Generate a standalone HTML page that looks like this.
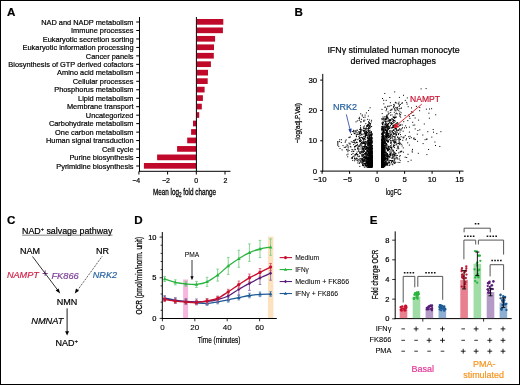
<!DOCTYPE html>
<html><head><meta charset="utf-8"><style>
html,body{margin:0;padding:0;background:#fff;}
svg{display:block;font-family:"Liberation Sans", sans-serif;will-change:transform;}
</style></head><body>
<svg width="520" height="385" viewBox="0 0 520 385">
<rect x="0" y="0" width="520" height="385" fill="#fff"/>
<text x="7" y="15.6" font-size="11.6" font-weight="bold" stroke="#000" stroke-width="0.2">A</text>
<rect x="196.90" y="19.00" width="26.40" height="5.70" fill="#c0082a"/>
<line x1="136.2" y1="22.0" x2="139.5" y2="22.0" stroke="#000" stroke-width="1"/>
<text x="133.5" y="24.650000000000002" font-size="7.4" text-anchor="end" stroke="#000" stroke-width="0.2">NAD and NADP metabolism</text>
<rect x="196.90" y="27.47" width="26.00" height="5.70" fill="#c0082a"/>
<line x1="136.2" y1="30.47" x2="139.5" y2="30.47" stroke="#000" stroke-width="1"/>
<text x="133.5" y="33.12" font-size="7.4" text-anchor="end" stroke="#000" stroke-width="0.2">Immune processes</text>
<rect x="196.90" y="35.94" width="18.20" height="5.70" fill="#c0082a"/>
<line x1="136.2" y1="38.94" x2="139.5" y2="38.94" stroke="#000" stroke-width="1"/>
<text x="133.5" y="41.589999999999996" font-size="7.4" text-anchor="end" stroke="#000" stroke-width="0.2">Eukaryotic secretion sorting</text>
<rect x="196.90" y="44.41" width="17.10" height="5.70" fill="#c0082a"/>
<line x1="136.2" y1="47.410000000000004" x2="139.5" y2="47.410000000000004" stroke="#000" stroke-width="1"/>
<text x="133.5" y="50.06" font-size="7.4" text-anchor="end" stroke="#000" stroke-width="0.2">Eukaryotic information processing</text>
<rect x="196.90" y="52.88" width="16.90" height="5.70" fill="#c0082a"/>
<line x1="136.2" y1="55.88" x2="139.5" y2="55.88" stroke="#000" stroke-width="1"/>
<text x="133.5" y="58.53" font-size="7.4" text-anchor="end" stroke="#000" stroke-width="0.2">Cancer panels</text>
<rect x="196.90" y="61.35" width="14.00" height="5.70" fill="#c0082a"/>
<line x1="136.2" y1="64.35000000000001" x2="139.5" y2="64.35000000000001" stroke="#000" stroke-width="1"/>
<text x="133.5" y="67.0" font-size="7.4" text-anchor="end" stroke="#000" stroke-width="0.2">Biosynthesis of GTP derived cofactors</text>
<rect x="196.90" y="69.82" width="11.10" height="5.70" fill="#c0082a"/>
<line x1="136.2" y1="72.82000000000001" x2="139.5" y2="72.82000000000001" stroke="#000" stroke-width="1"/>
<text x="133.5" y="75.47" font-size="7.4" text-anchor="end" stroke="#000" stroke-width="0.2">Amino acid metabolism</text>
<rect x="196.90" y="78.29" width="10.80" height="5.70" fill="#c0082a"/>
<line x1="136.2" y1="81.29" x2="139.5" y2="81.29" stroke="#000" stroke-width="1"/>
<text x="133.5" y="83.94" font-size="7.4" text-anchor="end" stroke="#000" stroke-width="0.2">Cellular processes</text>
<rect x="196.90" y="86.76" width="7.70" height="5.70" fill="#c0082a"/>
<line x1="136.2" y1="89.76" x2="139.5" y2="89.76" stroke="#000" stroke-width="1"/>
<text x="133.5" y="92.41" font-size="7.4" text-anchor="end" stroke="#000" stroke-width="0.2">Phosphorus metabolism</text>
<rect x="196.90" y="95.23" width="6.00" height="5.70" fill="#c0082a"/>
<line x1="136.2" y1="98.23" x2="139.5" y2="98.23" stroke="#000" stroke-width="1"/>
<text x="133.5" y="100.88" font-size="7.4" text-anchor="end" stroke="#000" stroke-width="0.2">Lipid metabolism</text>
<rect x="196.90" y="103.70" width="4.90" height="5.70" fill="#c0082a"/>
<line x1="136.2" y1="106.7" x2="139.5" y2="106.7" stroke="#000" stroke-width="1"/>
<text x="133.5" y="109.35" font-size="7.4" text-anchor="end" stroke="#000" stroke-width="0.2">Membrane transport</text>
<rect x="196.90" y="112.17" width="2.30" height="5.70" fill="#c0082a"/>
<line x1="136.2" y1="115.17" x2="139.5" y2="115.17" stroke="#000" stroke-width="1"/>
<text x="133.5" y="117.82" font-size="7.4" text-anchor="end" stroke="#000" stroke-width="0.2">Uncategorized</text>
<rect x="193.00" y="120.64" width="3.40" height="5.70" fill="#c0082a"/>
<line x1="136.2" y1="123.64000000000001" x2="139.5" y2="123.64000000000001" stroke="#000" stroke-width="1"/>
<text x="133.5" y="126.29" font-size="7.4" text-anchor="end" stroke="#000" stroke-width="0.2">Carbohydrate metabolism</text>
<rect x="191.10" y="129.11" width="5.30" height="5.70" fill="#c0082a"/>
<line x1="136.2" y1="132.11" x2="139.5" y2="132.11" stroke="#000" stroke-width="1"/>
<text x="133.5" y="134.76000000000002" font-size="7.4" text-anchor="end" stroke="#000" stroke-width="0.2">One carbon metabolism</text>
<rect x="187.20" y="137.58" width="9.20" height="5.70" fill="#c0082a"/>
<line x1="136.2" y1="140.58" x2="139.5" y2="140.58" stroke="#000" stroke-width="1"/>
<text x="133.5" y="143.23000000000002" font-size="7.4" text-anchor="end" stroke="#000" stroke-width="0.2">Human signal transduction</text>
<rect x="177.10" y="146.05" width="19.30" height="5.70" fill="#c0082a"/>
<line x1="136.2" y1="149.05" x2="139.5" y2="149.05" stroke="#000" stroke-width="1"/>
<text x="133.5" y="151.70000000000002" font-size="7.4" text-anchor="end" stroke="#000" stroke-width="0.2">Cell cycle</text>
<rect x="157.10" y="154.52" width="39.30" height="5.70" fill="#c0082a"/>
<line x1="136.2" y1="157.52" x2="139.5" y2="157.52" stroke="#000" stroke-width="1"/>
<text x="133.5" y="160.17000000000002" font-size="7.4" text-anchor="end" stroke="#000" stroke-width="0.2">Purine biosynthesis</text>
<rect x="143.90" y="162.99" width="52.50" height="5.70" fill="#c0082a"/>
<line x1="136.2" y1="165.99" x2="139.5" y2="165.99" stroke="#000" stroke-width="1"/>
<text x="133.5" y="168.64000000000001" font-size="7.4" text-anchor="end" stroke="#000" stroke-width="0.2">Pyrimidine biosynthesis</text>
<line x1="139.5" y1="17" x2="139.5" y2="171.8" stroke="#000" stroke-width="1"/>
<line x1="139" y1="171.3" x2="230.5" y2="171.3" stroke="#000" stroke-width="1"/>
<line x1="196.4" y1="17" x2="196.4" y2="171.3" stroke="#000" stroke-width="1"/>
<line x1="138.9" y1="171.3" x2="138.9" y2="174.5" stroke="#000" stroke-width="1"/>
<text x="136.2" y="182.8" font-size="7" text-anchor="middle" stroke="#000" stroke-width="0.2">−4</text>
<line x1="167.60000000000002" y1="171.3" x2="167.60000000000002" y2="174.5" stroke="#000" stroke-width="1"/>
<text x="165.9" y="182.8" font-size="7" text-anchor="middle" stroke="#000" stroke-width="0.2">−2</text>
<line x1="196.3" y1="171.3" x2="196.3" y2="174.5" stroke="#000" stroke-width="1"/>
<text x="196.3" y="182.8" font-size="7" text-anchor="middle" stroke="#000" stroke-width="0.2">0</text>
<line x1="225.0" y1="171.3" x2="225.0" y2="174.5" stroke="#000" stroke-width="1"/>
<text x="225.4" y="182.8" font-size="7" text-anchor="middle" stroke="#000" stroke-width="0.2">2</text>
<text x="153" y="194.5" font-size="9.6" textLength="63" lengthAdjust="spacingAndGlyphs" stroke="#000" stroke-width="0.3">Mean log<tspan font-size="7" dy="2.6">2</tspan><tspan dy="-2.6"> fold change</tspan></text>
<text x="294.6" y="15.8" font-size="11.6" font-weight="bold" stroke="#000" stroke-width="0.2">B</text>
<text x="393.5" y="52.7" font-size="8.9" text-anchor="middle" stroke="#000" stroke-width="0.2">IFNγ stimulated human monocyte</text>
<text x="393.3" y="63.7" font-size="8.9" text-anchor="middle" stroke="#000" stroke-width="0.2">derived macrophages</text>
<line x1="322.75" y1="73.9" x2="322.75" y2="171.6" stroke="#000" stroke-width="1"/>
<line x1="322.25" y1="171.1" x2="463.5" y2="171.1" stroke="#000" stroke-width="1"/>
<line x1="320.2" y1="171.1" x2="322.75" y2="171.1" stroke="#000" stroke-width="1"/>
<text x="317.1" y="173.79999999999998" font-size="7.8" text-anchor="end" stroke="#000" stroke-width="0.2">0</text>
<line x1="320.2" y1="140.76999999999998" x2="322.75" y2="140.76999999999998" stroke="#000" stroke-width="1"/>
<text x="317.1" y="143.46999999999997" font-size="7.8" text-anchor="end" stroke="#000" stroke-width="0.2">10</text>
<line x1="320.2" y1="110.44" x2="322.75" y2="110.44" stroke="#000" stroke-width="1"/>
<text x="317.1" y="113.14" font-size="7.8" text-anchor="end" stroke="#000" stroke-width="0.2">20</text>
<line x1="320.2" y1="80.11" x2="322.75" y2="80.11" stroke="#000" stroke-width="1"/>
<text x="317.1" y="82.81" font-size="7.8" text-anchor="end" stroke="#000" stroke-width="0.2">30</text>
<line x1="322.1" y1="171.1" x2="322.1" y2="173.8" stroke="#000" stroke-width="1"/>
<text x="320.1" y="182.3" font-size="7.8" text-anchor="middle" stroke="#000" stroke-width="0.2">−10</text>
<line x1="349.6" y1="171.1" x2="349.6" y2="173.8" stroke="#000" stroke-width="1"/>
<text x="347.6" y="182.3" font-size="7.8" text-anchor="middle" stroke="#000" stroke-width="0.2">−5</text>
<line x1="377.1" y1="171.1" x2="377.1" y2="173.8" stroke="#000" stroke-width="1"/>
<text x="377.1" y="182.3" font-size="7.8" text-anchor="middle" stroke="#000" stroke-width="0.2">0</text>
<line x1="404.6" y1="171.1" x2="404.6" y2="173.8" stroke="#000" stroke-width="1"/>
<text x="404.6" y="182.3" font-size="7.8" text-anchor="middle" stroke="#000" stroke-width="0.2">5</text>
<line x1="432.1" y1="171.1" x2="432.1" y2="173.8" stroke="#000" stroke-width="1"/>
<text x="432.1" y="182.3" font-size="7.8" text-anchor="middle" stroke="#000" stroke-width="0.2">10</text>
<line x1="459.6" y1="171.1" x2="459.6" y2="173.8" stroke="#000" stroke-width="1"/>
<text x="459.6" y="182.3" font-size="7.8" text-anchor="middle" stroke="#000" stroke-width="0.2">15</text>
<text transform="translate(300.3,123.1) rotate(-90)" font-size="8" text-anchor="middle" textLength="40" lengthAdjust="spacingAndGlyphs" stroke="#000" stroke-width="0.25">−log(adj.P.Val)</text>
<text x="393.7" y="194.5" font-size="8.5" text-anchor="middle" textLength="16" lengthAdjust="spacingAndGlyphs" stroke="#000" stroke-width="0.2">logFC</text>
<path d="M381.3 162.4h1M381.6 140.6h1M382.1 160.2h1M382.0 149.6h1M382.2 139.1h1M382.2 160.0h1M383.4 138.3h1M382.9 167.0h1M382.1 144.4h1M381.9 162.5h1M381.7 164.0h1M382.0 124.7h1M381.9 163.9h1M382.3 144.0h1M383.2 163.5h1M381.8 160.2h1M381.9 148.6h1M382.5 167.2h1M382.7 138.0h1M381.8 142.6h1M382.7 160.7h1M381.6 164.5h1M383.5 146.4h1M383.0 158.1h1M381.3 158.0h1M381.6 136.9h1M381.8 132.1h1M381.9 139.9h1M382.9 166.0h1M382.0 163.6h1M381.7 160.8h1M382.3 143.8h1M382.9 161.3h1M381.9 165.7h1M381.4 158.6h1M382.5 137.3h1M381.6 156.7h1M382.5 153.9h1M383.5 156.8h1M382.2 157.2h1M381.9 164.3h1M381.5 141.2h1M382.0 160.6h1M381.4 155.5h1M381.7 145.7h1M382.3 137.4h1M381.9 154.9h1M382.2 153.9h1M381.3 163.4h1M381.8 142.4h1M382.4 156.6h1M381.4 154.9h1M382.0 156.4h1M382.5 157.0h1M381.8 146.5h1M381.4 144.3h1M382.0 137.1h1M382.2 159.8h1M381.6 161.4h1M381.7 167.3h1M382.9 153.7h1M382.4 153.2h1M382.3 159.5h1M382.1 164.6h1M383.5 147.5h1M381.7 157.7h1M381.8 146.9h1M381.7 162.8h1M383.4 163.8h1M381.5 166.4h1M382.6 155.4h1M382.4 162.2h1M381.6 162.9h1M382.0 166.9h1M381.8 161.2h1M381.4 143.9h1M382.7 162.5h1M383.3 160.3h1M383.1 150.8h1M382.1 159.6h1M382.2 144.8h1M384.2 154.4h1M381.5 154.1h1M381.5 159.0h1M381.9 150.2h1M381.4 164.5h1M384.3 162.7h1M382.4 155.6h1M381.5 157.4h1M382.8 145.4h1M381.3 166.8h1M382.9 142.5h1M381.8 151.4h1M382.1 159.9h1M383.2 161.3h1M381.9 143.9h1M382.0 155.5h1M383.0 162.5h1M381.7 153.8h1M381.7 164.0h1M381.9 143.3h1M381.5 151.7h1M382.9 153.4h1M381.4 148.5h1M381.4 158.2h1M381.5 145.8h1M381.4 157.9h1M382.9 156.1h1M382.9 152.2h1M381.6 148.6h1M383.2 135.6h1M382.8 135.9h1M381.7 164.3h1M381.6 167.1h1M381.3 163.6h1M381.4 129.4h1M383.1 153.4h1M383.0 162.1h1M381.3 163.3h1M382.4 154.5h1M383.6 149.1h1M382.6 162.8h1M381.9 144.8h1M381.7 159.9h1M381.6 144.8h1M382.2 166.7h1M382.1 141.7h1M381.6 160.0h1M382.1 132.9h1M382.1 123.9h1M381.9 157.1h1M383.0 154.0h1M382.5 162.2h1M382.3 141.1h1M381.7 153.5h1M381.9 134.3h1M382.4 153.1h1M381.5 149.5h1M382.7 147.6h1M381.9 166.7h1M383.0 144.2h1M382.8 164.9h1M382.4 154.1h1M382.7 166.8h1M382.1 154.5h1M383.5 164.7h1M382.4 151.5h1M381.8 129.8h1M383.8 162.7h1M381.6 167.0h1M381.9 165.3h1M383.4 148.7h1M381.5 157.0h1M382.9 160.3h1M383.0 137.3h1M382.5 142.1h1M382.4 165.3h1M382.8 155.7h1M381.8 145.1h1M381.8 162.0h1M381.7 163.7h1M382.9 142.7h1M381.4 161.7h1M381.5 130.8h1M381.5 161.4h1M382.5 148.5h1M382.2 161.9h1M382.2 141.2h1M381.5 146.8h1M382.0 162.2h1M382.5 162.1h1M382.3 163.5h1M383.0 166.3h1M381.3 153.0h1M381.4 162.9h1M383.5 159.3h1M382.3 166.7h1M382.1 144.5h1M382.1 159.0h1M382.9 149.9h1M381.8 165.2h1M382.6 141.6h1M381.5 164.9h1M382.4 158.2h1M381.5 133.4h1M382.3 160.1h1M382.1 165.7h1M381.8 166.3h1M381.6 157.0h1M383.0 155.5h1M381.5 145.4h1M381.5 166.0h1M382.5 161.8h1M382.0 157.7h1M382.6 130.0h1M382.0 160.6h1M382.7 163.6h1M382.9 155.8h1M382.2 165.7h1M381.7 165.6h1M382.3 149.2h1M381.6 155.5h1M381.7 154.4h1M382.3 163.6h1M382.3 144.9h1M383.6 166.4h1M381.8 140.1h1M381.5 148.0h1M382.3 162.7h1M384.1 156.2h1M381.3 158.2h1M381.6 140.2h1M382.5 149.4h1M383.2 162.5h1M382.5 138.6h1M382.3 166.0h1M382.4 149.1h1M381.6 160.9h1M381.6 167.0h1M381.8 145.1h1M382.6 162.6h1M381.3 147.3h1M382.8 131.6h1M381.6 166.5h1M384.0 148.5h1M384.0 147.8h1M382.8 165.0h1M381.7 158.5h1M382.3 159.0h1M381.3 143.1h1M381.4 146.8h1M382.2 157.2h1M382.2 155.8h1M381.4 123.1h1M381.4 157.9h1M382.2 153.2h1M381.7 136.8h1M381.7 165.9h1M381.5 155.8h1M382.8 162.8h1M381.5 130.1h1M382.3 123.8h1M381.4 156.5h1M381.9 136.2h1M381.8 141.2h1M382.4 149.7h1M383.5 149.2h1M381.5 149.8h1M381.4 159.9h1M381.4 153.5h1M381.9 159.1h1M383.3 166.2h1M381.3 153.7h1M384.3 156.2h1M382.1 164.1h1M382.8 166.6h1M382.4 148.4h1M383.0 149.4h1M382.6 143.9h1M382.9 166.3h1M381.3 154.5h1M381.5 166.1h1M383.6 163.2h1M381.5 164.2h1M381.8 163.7h1M381.7 159.2h1M382.1 157.7h1M382.4 165.9h1M381.6 134.3h1M382.1 166.3h1M381.5 146.3h1M382.8 162.2h1M381.7 160.6h1M381.9 157.9h1M381.7 152.0h1M382.4 156.5h1M382.6 161.3h1M382.3 148.5h1M382.2 162.7h1M381.6 151.0h1M381.6 164.4h1M384.7 143.4h1M382.1 147.8h1M382.2 163.7h1M381.7 149.7h1M381.5 142.8h1M381.6 128.9h1M382.1 150.6h1M381.4 140.8h1M382.9 151.4h1M381.5 148.8h1M381.7 155.9h1M382.7 159.3h1M382.0 161.3h1M382.3 166.8h1M382.7 129.8h1M381.7 140.2h1M381.6 142.7h1M382.9 147.1h1M382.4 157.5h1M384.0 142.3h1M382.5 143.4h1M381.3 141.9h1M381.8 162.7h1M381.8 165.4h1M382.9 166.5h1M382.3 153.4h1M383.8 155.5h1M381.9 151.3h1M381.3 158.5h1M382.7 144.0h1M381.8 144.1h1M382.8 165.7h1M381.3 156.0h1M381.6 137.1h1M382.2 164.3h1M383.6 155.9h1M381.7 158.6h1M382.2 166.0h1M382.9 166.5h1M381.4 160.9h1M382.3 152.5h1M381.3 159.1h1M383.0 158.9h1M384.2 159.3h1M383.3 141.8h1M382.3 151.1h1M382.5 165.8h1M381.6 136.7h1M381.4 134.2h1M381.4 157.8h1M382.1 154.2h1M381.6 155.8h1M382.1 151.8h1M381.5 152.5h1M382.1 145.6h1M381.6 166.5h1M381.4 156.0h1M382.0 134.8h1M381.3 163.0h1M382.0 152.0h1M382.4 156.7h1M381.7 165.1h1M381.6 163.0h1M382.9 132.4h1M381.6 167.1h1M382.5 154.1h1M382.0 149.9h1M382.7 148.2h1M381.6 167.4h1M381.6 151.2h1M382.6 159.2h1M381.8 150.6h1M382.6 151.7h1M381.7 163.0h1M382.8 156.6h1M382.2 165.4h1M382.1 150.3h1M381.6 165.8h1M382.8 163.4h1M381.6 144.0h1M382.8 161.1h1M381.8 156.8h1M381.7 138.1h1M381.7 151.8h1M381.9 149.8h1M382.6 141.0h1M383.0 137.1h1M383.2 144.6h1M382.2 160.5h1M381.6 167.2h1M381.3 158.1h1M382.0 143.1h1M381.7 143.0h1M381.9 164.5h1M382.1 167.4h1M381.3 146.6h1M381.8 154.7h1M381.7 163.6h1M381.6 144.0h1M384.2 164.4h1M382.2 136.0h1M382.2 146.2h1M381.5 128.3h1M383.2 146.3h1M381.5 145.0h1M382.1 164.6h1M381.8 144.3h1M383.0 146.6h1M381.6 164.1h1M381.3 167.4h1M381.6 157.6h1M381.7 162.0h1M381.8 149.5h1M382.9 150.8h1M381.9 159.2h1M383.4 162.1h1M383.3 158.6h1M383.2 145.2h1M382.0 162.9h1M381.7 154.3h1M382.8 154.0h1M383.1 165.4h1M381.9 152.3h1M381.9 154.8h1M383.5 158.5h1M382.1 159.7h1M382.0 149.4h1M382.4 166.0h1M382.7 145.6h1M381.5 163.4h1M382.4 138.5h1M382.9 166.3h1M383.2 147.3h1M381.8 159.8h1M381.4 129.7h1M381.5 161.4h1M382.7 150.5h1M383.0 165.8h1M381.4 142.8h1M381.6 165.9h1M381.4 151.5h1M383.1 160.6h1M382.6 133.7h1M383.2 128.9h1M382.6 150.2h1M381.6 165.8h1M382.6 136.8h1M382.2 154.0h1M382.0 164.0h1M381.3 150.7h1M382.4 152.1h1M382.6 156.1h1M382.4 155.7h1M382.5 144.1h1M382.5 147.5h1M383.0 149.9h1M382.6 139.6h1M381.5 161.6h1M383.1 148.8h1M382.2 144.8h1M382.5 143.0h1M382.3 157.7h1M381.9 162.8h1M382.0 165.2h1M381.8 160.9h1M382.9 164.6h1M382.1 153.7h1M382.3 147.3h1M382.4 149.0h1M383.1 159.6h1M381.8 148.6h1M384.4 132.4h1M381.6 161.3h1M383.8 156.3h1M382.8 164.1h1M382.4 159.5h1M384.1 165.2h1M381.5 153.1h1M383.4 164.6h1M382.2 151.2h1M381.3 166.3h1M382.7 153.5h1M381.7 144.5h1M381.6 158.2h1M382.1 160.8h1M381.5 156.5h1M382.0 157.2h1M381.9 161.7h1M381.8 139.9h1M381.8 163.2h1M381.4 158.9h1M383.2 146.2h1M383.3 162.0h1M381.6 167.3h1M382.4 144.2h1M381.8 149.1h1M383.1 163.7h1M382.7 166.2h1M384.2 162.3h1M383.5 149.2h1M384.1 137.2h1M381.5 139.6h1M381.7 154.8h1M382.5 164.1h1M382.3 150.6h1M381.5 162.5h1M381.9 162.4h1M382.9 166.5h1M383.0 164.2h1M381.9 150.0h1M382.1 154.2h1M381.3 165.6h1M383.0 164.7h1M382.2 166.2h1M382.0 147.9h1M381.4 139.8h1M382.2 158.1h1M382.0 166.4h1M381.6 146.0h1M382.0 160.5h1M383.2 144.6h1M381.4 146.1h1M381.6 160.5h1M381.7 152.2h1M382.1 155.2h1M381.8 165.3h1M383.2 148.2h1M381.3 160.7h1M382.2 160.5h1M382.5 165.2h1M381.5 141.0h1M382.3 150.3h1M381.4 150.6h1M383.1 157.5h1M382.1 167.0h1M382.1 157.6h1M382.8 146.6h1M382.3 163.6h1M381.5 166.1h1M382.5 161.2h1M382.3 135.5h1M382.8 158.4h1M382.9 156.0h1M382.3 153.6h1M381.6 152.5h1M383.5 139.3h1M381.6 163.9h1M381.8 140.2h1M382.2 165.7h1M381.8 165.9h1M382.5 167.4h1M381.7 154.3h1M381.7 158.0h1M383.7 160.5h1M381.7 161.1h1M381.5 159.8h1M381.6 159.5h1M382.1 149.7h1M384.0 162.0h1M381.6 149.9h1M381.4 151.1h1M382.3 160.7h1M381.4 153.2h1M384.9 164.1h1M381.8 152.5h1M382.6 138.9h1M381.4 146.7h1M381.5 119.7h1M381.9 161.8h1M381.3 134.9h1M381.9 162.7h1M381.8 133.4h1M382.9 141.5h1M382.6 138.2h1M382.0 164.4h1M382.1 146.3h1M381.6 161.1h1M382.9 153.5h1M381.8 166.0h1M381.6 156.3h1M381.9 142.2h1M382.5 146.4h1M381.6 151.4h1M381.9 148.5h1M382.8 164.8h1M381.5 165.2h1M381.8 160.1h1M382.0 151.0h1M382.4 164.9h1M382.5 133.2h1M382.8 152.4h1M382.4 149.2h1M383.8 166.7h1M383.9 150.0h1M382.7 137.5h1M382.0 129.2h1M382.1 146.2h1M383.3 163.2h1M381.8 126.5h1M381.5 133.5h1M381.8 164.1h1M381.7 149.8h1M382.5 152.7h1M381.5 156.9h1M382.8 134.3h1M381.5 159.0h1M381.9 163.5h1M383.9 166.6h1M383.5 147.8h1M382.4 137.8h1M381.7 167.2h1M381.5 152.3h1M382.2 144.8h1M381.8 149.6h1M382.3 165.5h1M381.7 162.9h1M381.9 148.1h1M382.0 165.1h1M382.3 153.0h1M381.9 161.2h1M383.0 122.4h1M382.1 157.2h1M383.0 155.6h1M381.9 155.4h1M381.9 134.8h1M381.7 166.0h1M382.6 158.8h1M381.9 153.4h1M381.6 146.5h1M381.4 118.6h1M382.1 156.5h1M381.9 160.3h1M383.0 159.0h1M383.2 158.0h1M382.0 159.3h1M381.5 166.7h1M382.1 162.5h1M381.3 126.8h1M382.7 161.7h1M381.9 155.8h1M381.4 161.1h1M382.8 155.4h1M381.8 154.2h1M381.5 165.6h1M381.3 162.2h1M381.5 154.5h1M381.6 139.7h1M381.9 165.2h1M383.1 148.3h1M381.8 164.2h1M383.0 148.6h1M381.4 152.2h1M382.1 160.7h1M383.9 166.6h1M381.4 165.0h1M382.2 154.9h1M381.4 156.9h1M382.1 149.4h1M384.1 143.3h1M382.6 166.0h1M381.9 152.8h1M382.0 156.8h1M384.3 142.3h1M383.0 165.1h1M382.0 156.3h1M382.5 163.8h1M381.4 127.2h1M383.4 150.5h1M382.5 164.9h1M393.4 141.1h1M395.6 144.9h1M381.4 160.2h1M408.4 115.0h1M386.8 116.8h1M388.1 123.4h1M398.3 126.7h1M388.1 134.3h1M390.4 143.0h1M382.6 147.4h1M385.2 159.0h1M386.0 153.9h1M396.8 143.7h1M387.2 138.8h1M384.5 153.4h1M394.3 163.5h1M393.7 142.1h1M383.3 150.7h1M391.6 128.0h1M381.8 137.9h1M387.7 128.9h1M398.2 143.2h1M384.1 157.9h1M390.2 157.0h1M390.3 120.5h1M395.0 133.1h1M384.1 160.1h1M385.9 155.8h1M395.7 117.0h1M382.3 164.7h1M382.9 147.2h1M384.1 152.2h1M386.8 160.0h1M387.1 150.4h1M390.2 143.2h1M384.3 152.7h1M426.4 154.6h1M388.0 123.8h1M395.0 134.9h1M399.4 144.6h1M381.7 153.3h1M385.6 134.7h1M384.9 150.3h1M387.7 156.3h1M388.4 146.5h1M387.2 158.4h1M399.1 128.8h1M392.8 150.4h1M392.2 140.6h1M385.2 164.7h1M403.6 137.1h1M382.4 163.5h1M390.0 115.1h1M384.5 157.5h1M383.3 141.7h1M393.4 126.6h1M396.0 150.5h1M394.0 105.9h1M394.3 117.4h1M386.3 164.8h1M388.8 136.3h1M386.1 133.9h1M390.1 138.1h1M394.2 159.2h1M386.7 133.7h1M382.6 162.5h1M396.8 155.5h1M385.7 121.5h1M389.5 132.1h1M385.6 165.1h1M382.5 127.3h1M385.2 128.0h1M392.8 162.1h1M385.0 136.7h1M388.8 136.4h1M395.7 129.3h1M382.6 157.7h1M383.0 160.4h1M386.3 126.0h1M385.3 133.1h1M385.7 158.3h1M398.5 102.2h1M393.2 162.0h1M384.8 121.3h1M395.1 128.4h1M384.0 139.0h1M408.9 132.1h1M385.4 147.2h1M389.3 127.4h1M393.9 154.8h1M417.1 141.3h1M386.9 141.6h1M387.2 156.2h1M382.7 147.8h1M386.7 140.6h1M382.6 166.9h1M400.3 124.6h1M390.9 127.9h1M390.1 147.4h1M406.2 157.5h1M382.9 165.0h1M385.5 139.0h1M394.7 141.4h1M391.8 136.3h1M384.5 141.2h1M392.0 127.4h1M394.9 128.3h1M395.9 128.3h1M397.9 103.8h1M384.7 163.0h1M381.9 154.3h1M402.6 137.2h1M388.1 137.4h1M387.6 146.1h1M386.9 127.1h1M390.8 147.9h1M388.3 123.6h1M387.3 156.8h1M385.3 164.0h1M389.3 135.8h1M392.8 141.1h1M384.4 154.5h1M388.6 113.2h1M388.1 120.9h1M386.1 137.5h1M382.7 126.1h1M387.2 136.2h1M386.5 132.1h1M395.9 135.2h1M383.6 140.3h1M394.4 131.3h1M386.9 164.5h1M382.2 135.8h1M387.0 159.5h1M384.3 140.6h1M387.9 129.6h1M386.1 135.8h1M386.1 156.4h1M389.7 140.3h1M390.6 133.7h1M385.9 163.8h1M388.9 160.3h1M385.4 161.1h1M385.5 126.6h1M394.5 153.5h1M391.8 160.6h1M387.7 156.7h1M389.9 120.0h1M397.5 146.0h1M397.7 147.0h1M390.5 163.9h1M387.3 165.4h1M383.8 130.1h1M389.7 132.8h1M394.1 147.6h1M381.9 132.9h1M385.0 130.7h1M391.2 110.0h1M392.4 157.3h1M382.8 156.3h1M398.2 110.7h1M388.7 139.5h1M400.0 143.2h1M386.4 129.4h1M385.4 145.5h1M392.5 154.5h1M394.8 102.9h1M395.4 113.7h1M388.1 147.7h1M386.0 118.3h1M393.8 137.0h1M391.1 123.3h1M396.8 123.8h1M383.6 155.2h1M402.7 131.2h1M386.1 137.0h1M386.5 146.9h1M393.5 158.3h1M391.4 158.1h1M384.4 157.5h1M386.2 127.7h1M391.2 144.1h1M395.1 139.1h1M395.3 155.7h1M386.7 140.7h1M393.3 145.5h1M388.8 119.8h1M385.8 137.2h1M396.1 157.7h1M385.2 134.1h1M393.1 107.7h1M390.1 134.7h1M411.7 151.0h1M398.2 148.7h1M393.7 122.3h1M386.6 145.2h1M387.4 162.4h1M385.2 164.9h1M386.0 162.0h1M382.9 145.8h1M385.4 163.4h1M392.5 150.3h1M383.3 132.6h1M388.4 156.9h1M390.7 147.8h1M384.2 127.2h1M387.3 160.0h1M382.7 155.3h1M394.3 154.2h1M385.1 129.7h1M387.3 163.3h1M404.8 135.6h1M385.3 123.2h1M383.9 156.7h1M395.7 123.5h1M390.4 141.1h1M402.8 147.9h1M382.2 156.8h1M391.2 147.5h1M386.2 130.6h1M388.0 150.1h1M406.0 127.7h1M387.9 137.4h1M382.3 152.5h1M385.0 159.7h1M400.7 136.7h1M383.0 147.7h1M384.5 159.0h1M396.3 130.0h1M383.6 138.1h1M389.7 135.1h1M384.9 154.4h1M393.6 156.6h1M399.2 156.7h1M381.5 147.4h1M384.5 155.6h1M384.0 131.1h1M382.3 136.6h1M388.7 149.4h1M394.0 155.2h1M399.7 160.6h1M383.4 165.4h1M392.8 146.8h1M383.6 124.1h1M396.6 122.6h1M381.9 145.5h1M386.3 135.1h1M386.2 158.6h1M385.4 136.5h1M387.6 126.9h1M382.6 136.5h1M386.4 148.8h1M392.2 121.3h1M387.1 148.3h1M392.2 154.0h1M385.5 148.2h1M386.9 150.4h1M417.4 130.5h1M382.4 136.4h1M387.3 126.1h1M381.3 157.0h1M385.9 132.2h1M408.8 116.6h1M386.8 154.9h1M382.6 156.2h1M384.5 152.2h1M389.6 146.3h1M398.4 138.6h1M394.2 160.9h1M387.7 137.6h1M382.1 162.2h1M390.5 140.5h1M393.6 152.3h1M412.7 125.2h1M397.4 159.1h1M389.5 131.0h1M389.7 155.5h1M393.7 133.7h1M382.3 129.7h1M383.5 147.9h1M387.1 155.1h1M390.2 154.5h1M386.0 124.9h1M392.6 116.9h1M393.9 143.3h1M398.9 113.7h1M384.8 153.0h1M382.3 165.5h1M412.0 149.4h1M385.9 158.0h1M382.4 127.4h1M393.7 159.1h1M382.6 149.4h1M383.0 157.8h1M402.3 140.3h1M387.3 118.7h1M383.5 138.7h1M386.5 115.8h1M386.7 131.8h1M400.1 114.7h1M389.3 137.6h1M385.2 162.0h1M388.2 156.0h1M386.7 155.0h1M387.6 149.1h1M382.0 160.3h1M387.3 136.0h1M382.7 151.3h1M384.6 165.0h1M384.2 136.0h1M385.9 143.9h1M386.4 144.4h1M383.8 133.1h1M392.9 146.3h1M385.7 159.9h1M384.7 132.8h1M396.2 132.0h1M384.6 151.5h1M399.6 152.3h1M387.0 149.3h1M401.8 125.0h1M386.4 155.2h1M386.2 137.6h1M393.2 151.7h1M393.0 122.8h1M396.5 139.3h1M395.6 129.2h1M390.7 149.7h1M384.6 142.9h1M383.1 149.8h1M389.8 138.7h1M386.5 154.1h1M381.8 152.1h1M385.4 138.0h1M389.2 154.6h1M394.3 142.6h1M390.8 146.0h1M388.8 157.7h1M399.4 114.9h1M383.5 165.7h1M388.4 128.6h1M393.8 133.8h1M392.9 136.4h1M384.7 124.7h1M387.6 142.3h1M381.4 138.6h1M384.7 162.1h1M382.7 137.6h1M418.1 120.1h1M384.2 148.0h1M381.5 142.6h1M382.3 159.6h1M383.4 130.9h1M392.3 164.8h1M398.7 125.5h1M391.8 127.5h1M383.3 154.7h1M383.7 140.9h1M388.5 163.6h1M384.6 145.0h1M387.9 160.0h1M394.4 139.0h1M382.9 138.6h1M382.5 133.3h1M395.3 142.3h1M382.8 134.4h1M391.3 122.7h1M391.7 158.4h1M390.6 109.6h1M385.4 152.0h1M393.7 124.9h1M388.0 141.5h1M384.9 136.5h1M382.6 163.5h1M385.8 164.8h1M395.5 158.8h1M388.0 150.7h1M399.9 139.6h1M393.3 142.3h1M390.3 123.7h1M382.9 139.7h1M390.0 160.5h1M396.7 132.2h1M387.2 131.9h1M386.3 119.9h1M381.4 128.5h1M393.6 163.3h1M390.5 142.4h1M387.2 124.5h1M402.1 127.7h1M389.2 122.5h1M383.2 131.4h1M393.7 139.3h1M390.9 148.1h1M391.7 160.9h1M393.8 145.8h1M388.9 162.5h1M390.1 154.6h1M398.3 139.3h1M381.9 122.8h1M389.6 120.1h1M386.2 135.7h1M398.4 124.3h1M386.8 148.1h1M385.7 156.1h1M387.8 140.5h1M387.0 156.3h1M386.7 128.2h1M384.4 160.4h1M386.3 137.8h1M400.9 108.0h1M403.2 121.7h1M387.7 135.5h1M385.0 119.5h1M384.2 137.7h1M387.5 155.3h1M384.1 159.2h1M385.6 140.2h1M381.8 128.3h1M398.2 152.9h1M386.0 148.0h1M382.3 123.6h1M394.7 142.5h1M394.3 109.7h1M381.9 136.5h1M385.2 158.4h1M383.8 163.2h1M389.3 121.4h1M382.7 139.3h1M386.9 163.5h1M394.9 153.8h1M385.0 157.1h1M398.3 130.3h1M387.2 125.6h1M386.9 141.8h1M404.6 115.6h1M390.8 161.8h1M386.1 136.9h1M397.6 162.4h1M385.5 138.9h1M386.2 131.4h1M390.6 137.9h1M399.4 139.5h1M385.3 138.2h1M381.4 161.2h1M382.0 150.8h1M383.9 166.2h1M387.4 154.7h1M381.5 157.3h1M384.2 148.4h1M399.7 155.5h1M388.0 149.0h1M406.8 97.9h1M382.5 138.7h1M401.2 144.3h1M385.5 146.7h1M388.8 165.3h1M381.8 148.7h1M401.4 128.7h1M399.3 162.5h1M390.2 145.7h1M393.0 117.6h1M393.2 144.9h1M394.9 132.0h1M393.1 106.6h1M383.7 141.8h1M391.9 164.1h1M386.6 160.7h1M384.3 132.7h1M384.0 152.6h1M394.3 152.4h1M381.8 164.7h1M413.3 115.3h1M383.9 164.6h1M383.9 145.3h1M399.5 132.1h1M395.9 144.1h1M390.2 112.4h1M384.9 121.9h1M390.0 120.3h1M384.4 135.9h1M384.8 152.7h1M395.9 113.2h1M388.3 162.3h1M409.6 136.3h1M387.9 162.0h1M384.9 143.2h1M385.1 122.0h1M382.1 148.4h1M383.0 141.4h1M382.3 143.7h1M381.9 153.7h1M390.5 122.4h1M387.3 133.2h1M422.3 135.0h1M391.7 137.7h1M392.2 138.9h1M387.4 127.3h1M390.7 123.3h1M393.0 130.3h1M392.5 156.8h1M388.4 133.5h1M392.8 120.7h1M385.7 145.2h1M385.8 143.5h1M384.6 141.3h1M386.7 149.4h1M383.8 149.4h1M383.9 140.2h1M390.4 150.2h1M413.7 139.6h1M393.4 155.7h1M401.1 151.7h1M394.3 140.9h1M384.3 126.4h1M386.5 153.9h1M385.9 143.4h1M387.9 113.9h1M381.5 162.8h1M397.8 133.9h1M384.3 166.2h1M382.4 128.0h1M393.8 125.1h1M392.3 157.1h1M385.5 159.9h1M383.5 143.2h1M386.3 115.2h1M383.6 145.5h1M385.5 136.3h1M398.0 143.6h1M385.8 148.4h1M383.3 120.9h1M386.9 156.9h1M407.2 142.8h1M387.6 149.3h1M393.0 120.8h1M385.0 142.7h1M384.5 145.3h1M399.1 159.0h1M386.4 163.6h1M385.6 144.0h1M395.1 142.3h1M390.7 152.7h1M383.9 143.4h1M395.7 155.9h1M384.3 119.1h1M386.5 139.7h1M391.7 161.2h1M385.1 130.3h1M392.6 125.5h1M384.5 147.6h1M392.3 154.9h1M389.0 156.6h1M386.0 140.6h1M382.2 122.1h1M387.0 153.6h1M381.9 148.1h1M381.8 161.9h1M394.6 158.0h1M389.0 149.7h1M385.0 161.8h1M384.4 121.1h1M396.2 130.4h1M399.9 139.3h1M384.0 158.6h1M383.2 151.6h1M402.8 138.0h1M384.8 149.3h1M384.1 147.7h1M387.2 158.0h1M384.3 154.9h1M383.7 128.9h1M389.5 152.1h1M385.6 136.5h1M384.8 155.5h1M382.0 139.0h1M385.8 134.8h1M395.4 126.0h1M384.7 165.7h1M407.5 154.3h1M392.6 132.5h1M383.4 139.7h1M393.5 160.5h1M399.8 104.5h1M383.6 151.0h1M405.6 139.9h1M393.3 154.4h1M401.4 103.5h1M385.3 135.2h1M389.0 162.0h1M390.7 153.9h1M404.7 157.2h1M388.4 121.0h1M387.2 117.6h1M384.5 145.3h1M382.2 139.8h1M385.9 152.4h1M389.9 136.0h1M391.1 160.7h1M399.2 137.9h1M398.8 141.0h1M393.0 153.1h1M382.1 157.5h1M391.8 155.6h1M394.8 121.1h1M394.0 136.9h1M381.4 157.5h1M384.1 155.9h1M388.5 156.2h1M389.2 154.0h1M386.1 117.6h1M406.0 138.8h1M383.7 150.4h1M398.9 142.7h1M392.8 133.0h1M383.8 139.3h1M381.4 139.8h1M384.4 147.0h1M391.9 149.9h1M384.6 164.0h1M393.9 162.2h1M386.9 158.7h1M386.1 154.2h1M396.7 148.8h1M388.4 147.8h1M390.4 130.8h1M390.7 142.1h1M386.6 136.3h1M381.7 159.2h1M383.1 129.1h1M383.8 153.1h1M396.1 108.1h1M384.3 153.0h1M382.9 161.1h1M387.1 150.8h1M388.3 146.5h1M387.3 125.0h1M385.6 163.2h1M383.5 160.1h1M392.7 140.3h1M401.6 146.0h1M384.5 141.4h1M395.3 162.2h1M381.9 124.5h1M393.3 117.0h1M396.8 113.9h1M390.3 155.4h1M399.0 143.8h1M385.5 123.5h1M415.0 139.4h1M382.3 150.5h1M384.4 146.9h1M410.9 111.8h1M398.6 106.6h1M400.5 108.4h1M386.8 134.5h1M395.6 153.8h1M409.4 118.3h1M397.0 158.0h1M407.6 161.6h1M394.5 110.2h1M385.3 127.0h1M392.8 125.4h1M394.3 141.3h1M385.7 162.3h1M394.7 162.7h1M391.5 132.0h1M383.4 163.0h1M385.6 144.6h1M383.9 164.6h1M397.2 137.3h1M391.3 148.1h1M393.0 119.8h1M397.2 122.8h1M392.0 160.9h1M387.3 127.0h1M383.2 159.0h1M383.6 140.9h1M382.7 145.9h1M385.0 158.1h1M385.2 139.6h1M387.3 133.5h1M386.6 158.0h1M386.2 125.6h1M397.3 146.9h1M382.1 119.1h1M390.1 153.5h1M382.1 139.1h1M391.5 151.6h1M390.9 162.4h1M388.9 148.3h1M383.8 151.5h1M394.1 145.3h1M410.6 160.2h1M391.6 109.1h1M410.4 113.6h1M383.6 164.3h1M384.5 117.8h1M399.4 111.9h1M389.0 131.0h1M389.4 151.8h1M385.7 140.9h1M395.0 137.0h1M414.7 128.9h1M382.3 153.1h1M413.7 138.1h1M387.5 158.2h1M384.4 156.8h1M388.7 127.2h1M387.0 158.9h1M424.6 139.7h1M384.4 146.1h1M389.3 165.1h1M419.3 129.8h1M386.5 126.0h1M397.5 147.7h1M387.1 130.8h1M383.5 119.1h1M388.0 128.2h1M393.4 104.7h1M407.7 106.7h1M426.6 139.1h1M411.8 152.1h1M427.3 131.7h1M428.9 118.2h1M413.2 138.3h1M426.0 139.2h1M395.4 142.8h1M419.3 107.5h1M394.2 108.4h1M397.4 108.9h1M394.3 127.6h1M408.9 145.1h1M423.8 124.0h1M431.1 108.7h1M398.5 140.9h1M399.3 116.1h1M429.0 109.0h1M393.1 127.1h1M393.4 104.8h1M433.0 132.2h1M402.9 152.2h1M412.4 115.5h1M422.6 143.6h1M412.3 112.3h1M428.1 149.5h1M409.1 138.4h1M412.2 122.3h1M404.8 100.4h1M416.8 134.2h1M436.3 133.6h1M425.9 109.2h1M395.5 140.9h1M398.5 104.1h1M406.6 104.1h1M415.9 106.4h1M398.4 138.0h1M428.4 113.2h1M435.2 114.8h1M419.1 110.7h1M399.9 151.4h1M414.6 118.0h1M431.3 137.1h1M398.9 105.6h1M408.9 127.1h1M417.8 153.3h1M396.9 107.4h1M395.3 107.4h1M435.0 145.5h1M410.8 137.7h1M401.2 151.1h1M368.4 151.1h1M363.3 143.3h1M367.9 164.3h1M367.4 151.2h1M371.1 163.6h1M371.8 161.1h1M371.3 148.6h1M369.1 167.2h1M371.6 162.3h1M368.8 146.6h1M370.9 165.9h1M369.4 167.0h1M371.7 165.1h1M368.7 155.4h1M371.6 145.2h1M366.2 157.6h1M369.4 144.8h1M367.9 142.2h1M364.7 160.7h1M370.9 163.7h1M371.3 162.1h1M368.0 161.0h1M367.8 143.8h1M371.1 153.8h1M370.6 155.3h1M371.0 166.9h1M371.1 162.4h1M370.9 167.2h1M362.5 148.0h1M371.2 158.5h1M370.2 148.4h1M370.1 165.3h1M369.3 158.7h1M368.7 157.6h1M370.3 166.1h1M369.9 157.3h1M371.8 142.2h1M368.4 150.9h1M370.7 157.2h1M369.1 159.7h1M370.0 163.9h1M371.3 145.8h1M370.6 165.5h1M371.8 163.9h1M371.6 160.5h1M365.2 160.3h1M367.3 163.3h1M366.3 134.2h1M368.4 166.0h1M368.6 131.5h1M369.5 164.4h1M370.9 160.2h1M369.9 152.0h1M355.2 158.9h1M371.7 156.8h1M371.1 137.6h1M371.3 156.5h1M370.3 164.6h1M371.4 150.7h1M371.5 155.2h1M368.2 162.8h1M371.2 151.9h1M366.0 158.7h1M370.6 164.3h1M370.5 146.4h1M368.3 165.0h1M371.3 160.7h1M368.4 139.8h1M368.7 166.5h1M370.2 149.5h1M369.2 165.3h1M363.6 163.5h1M370.1 158.1h1M368.6 159.7h1M370.9 149.5h1M371.5 152.1h1M371.3 161.9h1M367.3 160.9h1M369.2 167.4h1M365.0 165.5h1M370.4 158.9h1M366.3 153.9h1M370.6 152.5h1M369.7 164.7h1M370.9 162.7h1M370.7 160.5h1M371.2 148.7h1M371.9 157.7h1M369.0 140.8h1M370.2 167.1h1M368.6 151.5h1M370.7 143.6h1M361.6 151.1h1M371.8 162.7h1M370.9 151.6h1M359.8 151.8h1M371.6 143.1h1M367.9 162.9h1M370.1 140.0h1M370.8 161.8h1M370.8 165.6h1M369.0 144.3h1M365.7 147.9h1M369.3 167.4h1M369.7 153.1h1M371.2 166.9h1M364.4 148.0h1M369.1 144.7h1M371.9 165.2h1M367.9 142.1h1M371.6 160.6h1M370.7 159.2h1M371.6 160.3h1M368.4 145.7h1M368.7 148.4h1M371.2 156.9h1M370.9 160.4h1M371.1 160.2h1M368.3 142.1h1M361.8 143.1h1M363.0 154.6h1M371.0 166.4h1M369.5 153.8h1M371.8 166.5h1M368.6 166.8h1M369.7 152.6h1M370.4 162.0h1M368.5 157.4h1M365.2 134.1h1M369.9 160.9h1M367.3 161.6h1M370.9 155.3h1M367.3 156.4h1M369.6 159.6h1M370.7 148.1h1M369.7 138.3h1M362.3 165.1h1M367.1 132.5h1M371.1 141.0h1M366.3 165.8h1M371.2 150.6h1M371.1 148.5h1M370.2 160.5h1M368.2 159.2h1M371.4 163.2h1M371.7 151.0h1M370.2 156.6h1M371.5 152.5h1M370.0 165.5h1M371.6 154.2h1M371.6 161.0h1M369.5 166.8h1M367.5 165.2h1M370.6 155.3h1M371.2 166.3h1M371.6 161.0h1M370.4 164.2h1M371.0 162.3h1M358.7 163.3h1M371.3 158.9h1M369.9 159.9h1M365.1 157.5h1M366.9 145.0h1M362.8 165.5h1M366.4 155.1h1M370.4 164.3h1M369.1 161.4h1M369.0 163.2h1M369.5 145.9h1M369.3 164.2h1M370.5 137.7h1M369.6 165.9h1M369.1 135.4h1M371.2 135.1h1M366.8 154.1h1M370.8 167.0h1M370.2 144.4h1M362.6 158.1h1M367.2 150.2h1M371.0 164.1h1M370.9 161.0h1M366.6 164.2h1M371.1 164.3h1M369.7 162.7h1M371.2 154.1h1M371.3 145.8h1M368.1 127.6h1M371.5 156.3h1M367.5 151.2h1M366.2 146.7h1M371.4 153.7h1M371.1 140.5h1M367.1 165.6h1M368.9 153.1h1M370.8 139.7h1M366.4 161.8h1M365.3 153.4h1M368.2 156.2h1M367.9 163.6h1M370.4 159.8h1M361.5 162.6h1M371.4 153.0h1M368.4 153.3h1M369.6 160.0h1M370.0 162.3h1M369.3 140.1h1M371.8 156.2h1M365.6 166.2h1M367.6 151.3h1M358.0 146.9h1M367.9 160.7h1M367.5 140.4h1M370.2 150.7h1M365.4 133.5h1M364.6 165.6h1M365.9 146.8h1M370.4 166.3h1M370.9 158.5h1M370.5 167.0h1M369.3 167.4h1M370.0 159.2h1M359.3 166.4h1M364.9 136.8h1M369.2 162.6h1M369.6 165.6h1M367.9 142.6h1M370.5 157.1h1M363.4 151.0h1M368.1 164.0h1M366.4 161.4h1M371.9 157.3h1M366.0 159.1h1M366.6 159.0h1M367.3 167.2h1M371.9 155.7h1M370.4 132.0h1M370.4 141.3h1M365.8 146.6h1M371.5 158.7h1M369.7 150.0h1M366.3 163.3h1M366.0 158.0h1M371.8 161.3h1M371.2 146.8h1M367.5 159.5h1M371.7 157.0h1M369.1 160.6h1M367.6 161.8h1M370.7 154.7h1M371.5 152.8h1M370.3 153.8h1M367.6 163.3h1M366.8 138.8h1M369.8 142.7h1M367.7 166.2h1M371.9 149.3h1M370.8 163.4h1M369.0 153.8h1M368.3 163.7h1M367.3 155.2h1M364.6 157.0h1M367.3 151.3h1M371.0 166.9h1M370.1 144.9h1M370.6 142.6h1M368.3 154.8h1M366.1 132.3h1M369.0 149.3h1M369.1 156.3h1M369.3 164.8h1M370.0 145.7h1M370.6 140.5h1M369.2 161.6h1M370.2 151.1h1M370.9 153.5h1M370.9 142.0h1M369.0 155.0h1M370.9 150.5h1M367.3 137.5h1M367.0 151.6h1M371.9 156.0h1M369.8 157.6h1M370.4 151.6h1M370.2 160.9h1M367.9 157.4h1M371.1 163.2h1M369.5 156.5h1M369.1 147.5h1M368.8 144.6h1M367.2 155.2h1M361.4 151.0h1M364.5 161.5h1M367.6 159.0h1M370.5 157.4h1M369.5 164.8h1M368.8 167.1h1M371.0 149.3h1M371.3 156.0h1M369.5 138.6h1M371.4 161.9h1M370.8 137.8h1M370.0 152.1h1M366.9 165.2h1M370.6 146.3h1M369.9 149.9h1M367.9 147.4h1M365.1 163.8h1M369.6 158.5h1M371.4 150.4h1M366.9 143.0h1M369.1 166.3h1M371.4 161.1h1M370.5 164.8h1M369.5 162.0h1M368.0 166.0h1M364.1 151.4h1M371.1 163.6h1M370.9 167.2h1M369.1 161.5h1M365.8 162.3h1M370.9 159.3h1M362.0 160.3h1M371.8 148.0h1M371.1 157.1h1M368.3 165.9h1M369.9 148.1h1M370.9 157.2h1M371.1 137.3h1M366.9 163.8h1M371.5 165.2h1M369.6 150.2h1M371.4 158.2h1M367.3 148.5h1M368.9 140.4h1M363.7 146.4h1M369.8 156.2h1M368.2 167.2h1M371.3 159.0h1M364.5 154.1h1M371.9 162.9h1M370.1 143.9h1M368.4 141.1h1M371.6 159.6h1M370.3 165.6h1M370.0 164.3h1M371.7 141.2h1M368.7 164.2h1M368.1 162.3h1M371.5 151.8h1M370.1 162.3h1M364.7 164.3h1M370.5 147.2h1M369.3 167.4h1M369.5 162.2h1M371.1 167.2h1M362.8 160.2h1M367.6 167.4h1M371.0 164.5h1M371.7 161.9h1M368.9 166.9h1M367.8 157.3h1M370.5 164.8h1M369.7 157.9h1M369.1 157.1h1M365.8 157.1h1M371.9 148.5h1M370.2 163.6h1M367.5 144.2h1M366.5 132.1h1M369.9 158.0h1M368.6 140.2h1M371.2 147.2h1M369.6 146.3h1M370.8 153.5h1M370.5 161.6h1M369.7 164.3h1M366.1 131.7h1M363.5 161.7h1M369.0 143.2h1M370.5 167.2h1M366.2 163.4h1M369.9 145.5h1M365.0 163.6h1M371.4 164.6h1M365.8 160.7h1M371.5 165.1h1M367.8 152.5h1M370.5 159.3h1M371.8 161.1h1M370.9 144.4h1M369.1 132.6h1M367.5 142.0h1M362.7 161.8h1M368.7 135.5h1M370.6 167.0h1M369.7 157.5h1M370.7 145.8h1M369.9 162.0h1M369.4 143.7h1M370.7 157.9h1M370.2 159.8h1M371.9 145.5h1M368.0 162.9h1M363.9 167.2h1M371.3 164.5h1M370.8 157.7h1M371.5 165.5h1M365.5 162.3h1M371.6 162.1h1M369.5 156.7h1M367.5 160.1h1M369.9 162.2h1M368.8 167.0h1M369.6 148.5h1M368.6 157.8h1M367.5 158.2h1M369.1 161.4h1M371.3 159.8h1M368.7 167.4h1M371.7 134.0h1M371.6 158.3h1M369.2 137.7h1M371.8 166.9h1M370.3 153.3h1M369.9 165.6h1M371.2 149.4h1M368.8 160.3h1M370.8 163.2h1M369.1 152.0h1M365.9 165.4h1M366.3 159.8h1M371.4 135.2h1M369.0 165.9h1M363.9 148.0h1M368.7 139.2h1M368.9 163.8h1M371.3 164.1h1M371.2 156.1h1M370.5 160.9h1M369.2 138.2h1M368.7 146.2h1M368.6 153.0h1M368.8 165.2h1M369.2 160.4h1M369.3 165.6h1M371.2 154.8h1M371.1 156.9h1M370.3 147.5h1M369.0 162.0h1M369.2 142.9h1M370.5 160.4h1M370.4 165.2h1M364.0 157.8h1M369.0 137.9h1M369.1 156.2h1M369.9 142.1h1M370.9 136.9h1M369.0 162.5h1M364.9 149.2h1M370.1 166.2h1M366.5 161.1h1M370.1 156.2h1M371.6 163.0h1M370.0 155.6h1M368.5 162.1h1M370.9 157.0h1M366.4 163.5h1M371.5 161.3h1M371.2 153.2h1M370.7 161.1h1M363.6 150.0h1M371.7 161.9h1M369.4 164.1h1M369.0 156.7h1M371.5 161.1h1M367.7 160.9h1M370.8 159.7h1M369.1 155.3h1M371.9 164.3h1M366.2 160.8h1M368.1 152.7h1M370.1 164.0h1M366.6 141.3h1M369.0 136.7h1M362.5 160.5h1M364.1 146.7h1M369.0 142.6h1M371.5 157.5h1M370.7 157.0h1M368.5 158.8h1M369.8 153.4h1M370.6 138.6h1M365.6 165.7h1M369.5 134.5h1M368.6 166.9h1M370.2 161.4h1M367.2 147.6h1M366.9 137.3h1M371.7 134.0h1M371.0 165.0h1M366.1 165.9h1M370.7 156.1h1M364.8 164.3h1M366.8 164.7h1M368.6 148.3h1M371.1 136.8h1M370.3 166.7h1M367.4 167.4h1M370.2 156.7h1M370.4 134.8h1M371.3 165.1h1M370.1 165.4h1M368.2 158.6h1M365.5 164.7h1M365.2 153.7h1M369.5 145.0h1M369.9 164.0h1M367.7 157.0h1M370.1 154.5h1M370.9 139.5h1M371.4 161.5h1M365.8 157.4h1M368.3 167.0h1M367.7 145.4h1M370.8 166.7h1M370.4 160.3h1M368.0 154.0h1M366.7 152.3h1M366.7 150.8h1M369.2 150.6h1M370.2 166.9h1M368.1 161.0h1M369.9 154.1h1M363.7 161.1h1M368.2 164.6h1M370.2 156.9h1M368.9 164.3h1M367.4 165.2h1M371.6 162.1h1M370.1 165.1h1M371.4 152.1h1M371.4 146.1h1M368.3 163.4h1M359.9 158.8h1M369.0 163.5h1M370.2 142.9h1M368.3 141.1h1M366.6 158.6h1M371.6 153.8h1M370.9 161.9h1M365.8 148.9h1M371.7 160.8h1M371.2 152.4h1M367.8 157.9h1M370.8 153.9h1M370.9 165.4h1M366.4 162.0h1M368.4 166.0h1M367.8 143.6h1M369.6 166.1h1M371.0 156.7h1M362.8 161.5h1M370.7 161.3h1M371.1 160.0h1M369.2 147.6h1M369.3 163.0h1M370.6 156.1h1M371.2 157.6h1M366.0 156.3h1M365.6 167.1h1M368.3 148.5h1M371.4 164.6h1M369.2 152.0h1M371.4 148.2h1M369.9 162.3h1M371.0 134.9h1M370.9 164.1h1M371.3 141.3h1M371.4 138.6h1M371.6 161.5h1M370.4 147.3h1M370.9 148.2h1M371.7 151.8h1M369.7 162.5h1M366.2 157.7h1M368.5 151.0h1M370.4 156.7h1M368.1 144.0h1M366.6 142.6h1M365.3 146.6h1M363.8 163.6h1M368.1 162.6h1M359.1 156.1h1M370.8 156.0h1M370.4 132.3h1M368.9 166.0h1M368.8 158.2h1M368.8 162.2h1M348.8 137.2h1M371.6 147.4h1M371.6 157.6h1M364.8 149.2h1M369.3 155.5h1M369.7 167.1h1M369.2 154.1h1M361.7 156.5h1M369.5 143.0h1M369.7 156.8h1M369.6 147.4h1M371.2 160.1h1M370.9 163.5h1M370.7 162.5h1M351.5 158.1h1M368.1 160.1h1M370.8 140.6h1M368.9 160.3h1M371.5 161.0h1M364.1 159.5h1M369.9 162.2h1M370.4 147.7h1M371.2 158.9h1M371.0 165.8h1M368.5 162.2h1M370.4 152.1h1M363.4 163.3h1M370.3 150.6h1M368.7 158.1h1M371.7 153.6h1M369.8 163.8h1M371.6 163.9h1M370.1 160.0h1M369.9 158.2h1M369.4 154.3h1M368.6 163.3h1M367.3 147.8h1M371.4 142.1h1M369.9 164.7h1M371.0 154.2h1M368.1 165.7h1M369.7 160.6h1M371.7 159.6h1M371.3 161.6h1M368.0 162.1h1M369.9 158.3h1M370.7 135.4h1M367.4 160.0h1M371.6 164.6h1M369.9 162.5h1M369.9 167.0h1M369.9 153.2h1M371.3 162.0h1M371.6 162.6h1M367.3 162.1h1M367.2 153.7h1M369.3 161.2h1M370.7 166.1h1M367.2 148.0h1M371.2 156.4h1M370.5 162.9h1M370.4 144.3h1M364.3 146.1h1M369.6 154.8h1M369.9 148.7h1M368.8 159.1h1M369.8 157.7h1M371.3 159.5h1M370.7 151.6h1M369.0 143.9h1M371.5 162.9h1M371.4 163.1h1M370.6 132.5h1M370.1 137.1h1M370.1 145.9h1M371.6 164.8h1M370.2 147.0h1M370.7 162.0h1M371.2 155.8h1M371.3 161.5h1M368.3 159.9h1M366.9 166.8h1M366.4 155.2h1M370.4 153.1h1M371.2 155.8h1M367.9 157.8h1M368.8 142.5h1M371.7 151.4h1M370.0 154.7h1M369.3 158.8h1M367.5 148.9h1M371.6 167.0h1M369.9 157.7h1M366.5 158.3h1M367.0 162.6h1M366.3 157.7h1M366.6 150.5h1M369.5 139.4h1M366.0 155.0h1M370.2 152.2h1M371.6 158.5h1M371.6 140.9h1M371.8 165.1h1M371.1 143.3h1M370.7 164.2h1M371.6 146.6h1M371.0 147.5h1M370.9 163.9h1M366.1 148.4h1M371.2 157.0h1M365.5 165.7h1M371.0 167.4h1M371.0 135.6h1M369.1 157.5h1M364.3 163.4h1M370.1 165.5h1M367.9 145.4h1M369.9 155.3h1M371.0 131.9h1M370.7 140.9h1M367.4 162.3h1M371.8 137.8h1M370.6 164.1h1M371.6 139.0h1M371.3 142.9h1M371.4 155.3h1M368.9 164.4h1M371.4 154.3h1M370.3 148.5h1M369.4 159.8h1M370.1 165.2h1M370.2 164.6h1M369.6 158.9h1M369.5 166.9h1M369.9 166.4h1M368.4 140.4h1M362.2 138.5h1M370.4 162.6h1M371.0 152.8h1M368.8 149.9h1M362.9 155.6h1M371.1 149.2h1M371.3 160.8h1M367.8 155.5h1M361.5 161.1h1M367.3 148.2h1M370.8 147.8h1M370.3 161.6h1M371.1 162.9h1M369.0 165.7h1M371.4 165.3h1M363.4 165.9h1M369.2 156.3h1M370.7 151.2h1M368.3 130.8h1M370.8 156.6h1M366.8 159.5h1M369.4 152.1h1M371.1 152.6h1M369.9 147.9h1M371.4 166.8h1M371.3 166.8h1M353.4 151.2h1M361.8 147.9h1M337.3 145.3h1M366.8 151.0h1M356.2 153.6h1M365.7 157.7h1M368.3 142.6h1M357.3 148.2h1M349.6 143.9h1M368.1 124.8h1M363.5 130.8h1M370.0 159.4h1M368.3 135.0h1M368.9 126.7h1M360.1 129.4h1M365.3 141.6h1M364.2 146.8h1M357.3 162.9h1M365.2 153.3h1M364.1 128.8h1M370.1 154.8h1M362.3 164.5h1M364.4 128.2h1M364.4 158.2h1M362.6 143.5h1M369.0 164.2h1M368.6 144.2h1M368.5 138.9h1M371.2 138.7h1M353.1 131.7h1M369.2 137.4h1M356.0 142.4h1M368.0 148.8h1M369.8 157.6h1M361.7 142.2h1M347.2 156.8h1M357.5 156.5h1M352.6 142.4h1M354.2 157.1h1M369.4 144.2h1M365.2 158.9h1M361.7 162.8h1M370.7 131.9h1M366.2 160.8h1M351.4 157.9h1M362.4 162.6h1M356.0 153.5h1M359.4 144.9h1M366.3 150.9h1M365.5 157.1h1M360.0 139.7h1M366.7 162.8h1M366.9 161.9h1M348.6 150.5h1M343.8 147.4h1M360.4 152.7h1M360.5 149.0h1M358.2 150.8h1M358.6 145.7h1M347.3 145.3h1M342.5 145.6h1M364.5 144.8h1M365.4 154.9h1M361.4 144.9h1M371.0 133.2h1M357.4 145.9h1M359.0 133.9h1M364.2 143.7h1M358.1 159.8h1M345.7 139.9h1M356.0 136.4h1M356.9 154.5h1M369.7 127.8h1M370.4 164.3h1M365.3 153.8h1M370.1 123.6h1M352.8 151.5h1M367.6 165.7h1M359.5 162.3h1M365.1 146.9h1M362.3 148.8h1M354.1 146.5h1M355.1 155.1h1M356.0 142.3h1M369.8 134.7h1M363.8 150.1h1M368.7 137.8h1M359.6 135.5h1M369.1 120.0h1M354.4 140.0h1M355.2 146.5h1M367.6 126.0h1M353.9 155.0h1M365.0 149.4h1M337.3 141.6h1M365.8 128.1h1M368.3 125.9h1M360.1 127.6h1M365.4 148.8h1M346.1 149.6h1M367.9 140.3h1M365.0 156.0h1M364.5 130.6h1M367.2 158.9h1M368.1 146.9h1M363.2 150.4h1M365.7 142.0h1M364.8 141.3h1M357.3 139.7h1M363.9 153.7h1M364.6 134.6h1M361.7 159.0h1M361.0 160.0h1M362.2 151.7h1M351.0 134.4h1M365.7 157.1h1M351.3 151.6h1M348.5 143.1h1M368.4 122.7h1M359.8 160.2h1M360.7 151.7h1M337.3 142.3h1M362.9 141.0h1M365.2 137.1h1M371.2 161.1h1M361.0 142.9h1M355.4 145.6h1M347.4 151.7h1M365.2 142.9h1M370.8 134.3h1M369.0 159.0h1M367.9 124.4h1M368.8 153.6h1M362.4 161.2h1M367.4 158.1h1M354.2 147.8h1M360.1 131.6h1M360.2 143.6h1M367.8 158.2h1M337.3 143.3h1M366.7 147.2h1M369.8 149.3h1M364.3 156.2h1M362.5 141.8h1M360.4 133.6h1M363.0 152.2h1M362.5 148.1h1M358.5 138.9h1M353.2 140.5h1M366.0 147.3h1M359.1 133.7h1M348.5 137.6h1M361.2 142.9h1M360.8 152.8h1M359.1 153.2h1M359.5 160.7h1M363.3 159.1h1M364.3 147.6h1M365.8 143.8h1M365.0 135.6h1M367.8 133.9h1M370.6 139.8h1M369.5 133.5h1M369.4 149.5h1M359.0 133.3h1M359.0 140.5h1M345.6 146.3h1M370.8 141.7h1M357.0 148.0h1M357.5 134.5h1M367.3 124.5h1M363.9 160.4h1M352.1 157.0h1M354.0 158.6h1M369.0 123.8h1M365.0 139.2h1M360.2 141.2h1M369.5 143.6h1M360.3 144.4h1M368.3 155.4h1M354.2 158.5h1M368.4 132.7h1M358.4 134.0h1M369.5 137.3h1M357.6 161.2h1M363.9 138.2h1M362.4 148.6h1M369.8 141.0h1M338.9 141.6h1M367.8 143.0h1M357.4 154.9h1M340.8 142.5h1M362.4 152.1h1M351.2 154.5h1M361.2 137.3h1M368.0 138.8h1M361.5 155.9h1M363.6 156.7h1M367.3 138.4h1M368.8 136.5h1M368.9 165.1h1M365.8 162.8h1M357.0 160.2h1M363.2 151.7h1M353.4 132.0h1M364.3 153.9h1M368.1 121.6h1M345.1 141.0h1M370.3 155.4h1M371.3 148.6h1M370.6 158.3h1M368.4 149.2h1M366.9 125.7h1M367.6 164.0h1M345.2 147.4h1M362.9 142.6h1M359.1 163.1h1M361.4 161.7h1M367.4 149.8h1M370.2 153.6h1M359.2 137.3h1M368.3 163.0h1M365.3 129.6h1M368.6 141.4h1M366.6 125.7h1M357.2 149.0h1M366.9 150.0h1M353.7 140.9h1M353.2 156.3h1M371.1 120.3h1M365.9 131.2h1M359.3 131.6h1M362.3 159.7h1M360.3 137.7h1M364.5 159.4h1M369.4 134.0h1M351.5 149.6h1M364.3 156.3h1M365.4 135.2h1M371.4 163.4h1M355.5 139.2h1M366.8 147.0h1M364.7 154.0h1M365.1 144.8h1M361.9 155.2h1M360.4 140.8h1M355.4 132.8h1M356.7 142.4h1M368.1 138.6h1M367.3 159.8h1M370.8 121.9h1M360.2 128.4h1M358.3 136.4h1M358.6 156.7h1M370.0 157.8h1M352.3 142.1h1M366.1 128.1h1M361.8 158.4h1M365.2 158.3h1M366.9 128.7h1M369.7 162.9h1M369.0 126.8h1M363.9 139.2h1M368.5 127.8h1M360.6 134.7h1M370.2 144.0h1M359.4 140.8h1M362.7 139.0h1M356.2 158.1h1M351.7 158.5h1M361.6 155.0h1M369.5 159.2h1M357.2 134.2h1M359.1 133.7h1M368.2 134.2h1M362.8 138.8h1M369.1 156.2h1M361.7 137.7h1M368.1 128.5h1M347.6 146.8h1M369.9 124.0h1M365.7 152.5h1M369.8 125.7h1M365.0 136.0h1M361.7 163.4h1M349.8 146.4h1M360.4 131.1h1M352.3 149.9h1M354.7 149.6h1M356.8 155.1h1M368.8 125.7h1M363.1 139.9h1M363.8 164.0h1M363.1 136.7h1M358.3 151.4h1M356.2 158.6h1M364.9 144.6h1M355.1 139.4h1M371.1 139.5h1M362.8 148.5h1M360.1 153.6h1M346.4 154.9h1M370.1 140.1h1M356.6 132.8h1M363.5 137.9h1M363.9 142.4h1M353.7 142.2h1M351.9 157.6h1M364.7 145.4h1M364.2 133.6h1M370.8 147.1h1M366.9 163.8h1M361.1 154.9h1M363.2 148.3h1M364.0 138.5h1M364.9 152.2h1M366.7 151.4h1M360.1 141.6h1M361.6 158.4h1M363.5 143.4h1M362.9 146.5h1M358.8 146.6h1M359.2 129.4h1M356.5 145.2h1M361.5 134.8h1M370.2 140.0h1M364.5 143.2h1M363.1 148.8h1M368.1 130.0h1M359.3 138.6h1M364.5 153.9h1M359.7 145.7h1M354.6 149.4h1M359.2 141.7h1M355.9 136.7h1M367.4 144.1h1M355.8 134.6h1M352.2 160.4h1M354.6 143.3h1M367.4 145.4h1M369.2 152.6h1M366.5 125.7h1M362.4 165.6h1M365.4 153.3h1M368.8 122.5h1M368.7 160.6h1M365.3 131.8h1M369.3 153.7h1M362.4 164.4h1M354.6 159.7h1M360.3 132.3h1M367.3 137.0h1M339.5 148.5h1M367.8 139.7h1M354.4 133.7h1M355.4 154.3h1M359.6 141.6h1M362.3 152.7h1M349.9 137.0h1M371.5 161.9h1M353.2 144.6h1M353.0 130.3h1M359.9 132.8h1M361.8 159.3h1M369.6 130.3h1M340.9 139.7h1M368.3 154.9h1M355.7 153.9h1M360.0 161.8h1M362.6 159.3h1M365.8 165.2h1M367.1 126.4h1M361.4 134.3h1M356.6 130.4h1M354.1 160.8h1M339.2 139.8h1M363.9 157.9h1M357.8 149.1h1M367.5 130.5h1M365.0 136.7h1M356.3 160.1h1M363.0 142.9h1M362.2 154.3h1M350.8 141.8h1M355.8 145.5h1M363.9 126.0h1M353.7 133.6h1M365.6 161.6h1M365.5 152.6h1M346.7 150.1h1M369.5 154.4h1M370.2 150.0h1M362.6 156.2h1M360.5 147.1h1M355.3 154.5h1M365.6 129.9h1M363.0 157.5h1M364.1 143.0h1M359.0 152.2h1M365.8 149.1h1M344.7 142.2h1M366.2 135.5h1M347.6 149.9h1M358.0 131.9h1M365.4 134.6h1M363.9 143.4h1M370.5 138.8h1M368.8 162.8h1M364.5 146.1h1M363.7 141.2h1M337.3 144.3h1M366.1 157.8h1M368.9 149.7h1M371.1 126.5h1M361.7 148.9h1M360.8 140.3h1M369.9 135.5h1M368.9 139.6h1M362.8 134.0h1M362.0 146.8h1M370.4 141.5h1M367.9 131.6h1M349.4 143.9h1M361.8 143.4h1M368.0 152.0h1M367.2 140.9h1M338.3 146.4h1M367.4 163.3h1M355.9 135.9h1M361.2 152.0h1M370.8 141.5h1M363.9 136.2h1M365.5 135.3h1M367.1 143.9h1M367.8 136.0h1M365.5 153.7h1M369.2 166.9h1M360.9 145.9h1M360.2 133.0h1M358.8 137.3h1M366.1 134.2h1M346.5 144.9h1M362.9 127.0h1M365.4 133.3h1M358.9 159.0h1M367.6 144.2h1M361.5 137.5h1M367.9 137.1h1M357.0 144.3h1M363.8 157.8h1M369.7 167.1h1M351.8 131.5h1M366.3 151.8h1M365.1 158.7h1M371.6 165.8h1M367.7 149.9h1M361.5 159.5h1M371.1 141.6h1M367.3 147.4h1M367.9 153.5h1M369.7 124.3h1M354.2 142.3h1M356.6 152.0h1M359.1 138.4h1M368.4 153.7h1M368.8 130.8h1M367.0 154.5h1M367.6 140.9h1M363.3 128.0h1M365.0 132.0h1M368.8 162.8h1M362.7 139.1h1M367.6 165.1h1M368.0 158.5h1M370.6 152.2h1M369.5 145.4h1M367.2 141.2h1M366.3 161.9h1M360.6 158.3h1M366.4 135.2h1M368.5 149.6h1M365.0 133.5h1M347.7 147.9h1M370.9 155.1h1M356.6 130.1h1M354.7 140.4h1M365.2 143.7h1M369.4 136.5h1M362.8 149.5h1M368.9 164.5h1M361.0 142.5h1M361.9 149.7h1M370.5 157.6h1M369.6 143.7h1M360.6 129.9h1M355.7 142.6h1M367.1 135.2h1M362.7 165.5h1M366.1 133.6h1M368.5 123.4h1M358.6 149.0h1M341.6 149.9h1M363.2 160.5h1M365.7 149.0h1M366.9 157.7h1M370.5 140.6h1M365.5 142.1h1M347.5 154.1h1M360.8 129.9h1M356.5 158.6h1M363.0 130.4h1M350.4 147.0h1M366.2 157.7h1M368.2 155.3h1M367.8 129.7h1M368.4 125.5h1M352.5 153.4h1M364.5 133.2h1M368.8 128.5h1M370.2 126.9h1M358.9 117.3h1M368.1 110.5h1M355.5 131.5h1M367.8 116.1h1M361.7 130.1h1M358.9 132.4h1M354.6 130.9h1M367.2 119.4h1M360.1 121.9h1M360.0 125.7h1M361.8 116.0h1M366.0 126.2h1M363.2 130.9h1M364.3 120.2h1M360.2 113.8h1M363.4 121.5h1M358.5 118.5h1M354.6 130.8h1M369.6 107.8h1M363.6 131.0h1M359.0 118.9h1M364.6 115.1h1M365.3 128.5h1M356.8 120.9h1M360.1 130.0h1M364.6 117.1h1M358.7 120.4h1M360.3 131.2h1M365.5 132.8h1M355.5 121.9h1M364.0 132.4h1M354.1 133.4h1M361.8 115.0h1M363.8 130.8h1M367.4 133.1h1M363.2 120.3h1M365.3 123.7h1M360.7 121.9h1M363.2 117.4h1M365.9 112.9h1M360.1 131.8h1M363.1 128.7h1M363.5 131.1h1M365.7 132.1h1M360.9 119.3h1M385.1 127.6h1M399.8 125.4h1M389.8 110.4h1M396.2 103.0h1M386.0 119.0h1M386.4 123.2h1M383.4 126.4h1M387.3 106.6h1M390.9 124.5h1M394.0 117.2h1M383.1 119.1h1M393.2 120.7h1M383.2 136.4h1M395.6 133.6h1M383.2 100.3h1M395.1 117.4h1M394.7 126.3h1M398.3 133.6h1M396.7 126.9h1M394.2 118.6h1M391.5 123.5h1M393.3 134.5h1M384.7 107.0h1M394.7 125.1h1M397.5 130.5h1M384.5 116.5h1M386.1 131.9h1M387.2 136.2h1M386.2 131.2h1M399.1 108.8h1M389.2 106.1h1M391.9 130.9h1M389.9 102.7h1M400.6 112.8h1M385.4 136.9h1M383.3 127.3h1M392.0 123.8h1M386.0 131.8h1M400.4 129.3h1M390.6 105.5h1M384.7 128.8h1M387.7 134.0h1M391.7 131.1h1M386.2 116.1h1M386.8 128.7h1M394.5 128.3h1M406.2 102.4h1M396.0 134.5h1M397.6 130.2h1M391.5 114.9h1M387.8 126.5h1M393.3 133.3h1M400.1 117.1h1M394.5 115.0h1M386.6 132.4h1M383.7 127.2h1M386.1 109.4h1M387.9 118.9h1M386.2 116.5h1M400.4 130.3h1M388.7 133.9h1M389.9 125.5h1M384.5 107.4h1M408.2 136.7h1M385.3 130.4h1M395.3 117.1h1M385.8 130.6h1M404.0 127.9h1M393.1 127.4h1M385.8 125.1h1M396.6 110.0h1M388.8 128.5h1M391.6 118.9h1M396.9 109.1h1M395.3 110.9h1M411.0 107.9h1M401.8 102.7h1M398.0 134.6h1M392.6 133.9h1M381.9 137.5h1M387.2 117.8h1M389.3 120.2h1M414.2 125.0h1M390.9 134.6h1M387.5 106.1h1M393.0 130.5h1M383.3 129.1h1M407.3 120.6h1M385.0 124.5h1M391.7 135.4h1M387.1 134.0h1M392.6 126.2h1M387.1 121.2h1M389.0 120.3h1M397.2 137.0h1M383.3 103.8h1M384.6 120.1h1M394.0 120.6h1M392.3 119.4h1M392.0 127.1h1M398.5 129.6h1M398.9 97.4h1M385.7 135.3h1M405.1 125.9h1M400.0 134.6h1M390.3 119.6h1M385.6 110.7h1M391.4 118.8h1M383.6 128.3h1M385.1 118.7h1M387.3 124.2h1M385.7 126.3h1M383.1 130.7h1M387.8 137.4h1M386.0 133.7h1M386.2 108.3h1M387.0 130.2h1M387.8 135.4h1M395.0 102.3h1M389.3 128.4h1M390.3 136.3h1M381.7 113.6h1M381.5 109.4h1M393.6 130.0h1M393.4 129.7h1M387.5 135.6h1M386.6 133.0h1M387.2 129.8h1M394.3 117.5h1M382.8 131.6h1M385.1 129.5h1M387.4 114.8h1M386.9 133.5h1M389.3 97.5h1M385.5 127.6h1M383.0 130.4h1M387.6 111.9h1M391.8 131.9h1M384.6 125.4h1M382.5 117.0h1M389.4 120.4h1M387.2 133.1h1M393.8 112.3h1M385.7 100.4h1M384.5 129.6h1M382.8 118.2h1M387.7 126.0h1M389.4 126.6h1M382.0 98.5h1M387.4 136.2h1M420.6 88.9h1M425.6 88.6h1M384.3 93.5h1M403.0 95.3h1M432.7 129.5h1M439.3 146.5h1M434.4 142.0h1M440.4 131.7h1M394.2 91.9h1" stroke="#000" stroke-width="1" fill="none"/>
<text x="333.1" y="110.4" font-size="9.6" textLength="24" lengthAdjust="spacingAndGlyphs" fill="#1f5d9c" stroke="#1f5d9c" stroke-width="0.2">NRK2</text>
<line x1="346.3" y1="114.4" x2="350.2" y2="130" stroke="#2040a0" stroke-width="0.8"/>
<path d="M350.6 133.7 L348.4 129.2 L351.8 128.6 Z" fill="#2040a0"/>
<text x="410" y="101.8" font-size="9.6" textLength="30" lengthAdjust="spacingAndGlyphs" fill="#c8102e" stroke="#c8102e" stroke-width="0.2">NAMPT</text>
<line x1="421.8" y1="104.1" x2="397" y2="125" stroke="#e8101e" stroke-width="0.9"/>
<path d="M393.6 128.3 L395.5 122.9 L399.1 127 Z" fill="#e8101e"/>
<text x="7" y="223.9" font-size="11.6" font-weight="bold" stroke="#000" stroke-width="0.2">C</text>
<text x="22" y="234" font-size="9" textLength="90.5" lengthAdjust="spacingAndGlyphs" stroke="#000" stroke-width="0.2">NAD<tspan font-size="5.5" dy="-3.4">+</tspan><tspan dy="3.4"> salvage pathway</tspan></text>
<line x1="22" y1="235.2" x2="112.5" y2="235.2" stroke="#333" stroke-width="0.6"/>
<text x="20" y="253.6" font-size="9.5" textLength="20" lengthAdjust="spacingAndGlyphs" stroke="#000" stroke-width="0.2">NAM</text>
<text x="96" y="253.6" font-size="9.5" textLength="13" lengthAdjust="spacingAndGlyphs" stroke="#000" stroke-width="0.2">NR</text>
<text x="6.9" y="278.4" font-size="9.7" font-style="italic" textLength="32.0" lengthAdjust="spacingAndGlyphs" fill="#d21e46" stroke="#d21e46" stroke-width="0.2">NAMPT</text>
<text x="45.1" y="277.4" font-size="10" text-anchor="middle" fill="#7b3f98" stroke="#7b3f98" stroke-width="0.2">+</text>
<text x="51.4" y="278.5" font-size="9.7" font-style="italic" textLength="27.3" lengthAdjust="spacingAndGlyphs" fill="#7b3f98" stroke="#7b3f98" stroke-width="0.2">FK866</text>
<text x="92.8" y="278.3" font-size="9.7" font-style="italic" textLength="24.2" lengthAdjust="spacingAndGlyphs" fill="#2864a0" stroke="#2864a0" stroke-width="0.2">NRK2</text>
<text x="56.8" y="304.8" font-size="9.4" textLength="20.6" lengthAdjust="spacingAndGlyphs" stroke="#000" stroke-width="0.2">NMN</text>
<text x="31.2" y="323.8" font-size="9.5" font-style="italic" textLength="32.3" lengthAdjust="spacingAndGlyphs" stroke="#000" stroke-width="0.2">NMNAT</text>
<text x="55.5" y="345.6" font-size="9" stroke="#000" stroke-width="0.2">NAD<tspan font-size="6" dy="-2.4">+</tspan></text>
<line x1="32.5" y1="256.5" x2="58" y2="290.5" stroke="#000" stroke-width="0.8"/>
<path d="M60.2 293.6 L55.6 290.6 L58.6 288.4 Z"/>
<line x1="102" y1="256.5" x2="77" y2="291" stroke="#000" stroke-width="0.8" stroke-dasharray="1 1"/>
<path d="M74.8 293.6 L76 288.6 L79 290.8 Z"/>
<line x1="67.1" y1="308.3" x2="67.1" y2="332" stroke="#000" stroke-width="0.9"/>
<path d="M67.1 335.5 L65.1 331.3 L69.1 331.3 Z"/>
<text x="134.3" y="224.2" font-size="11.6" font-weight="bold" stroke="#000" stroke-width="0.2">D</text>
<rect x="183.10" y="279.50" width="5.00" height="39.00" fill="#f7b6e0"/>
<rect x="267.90" y="236.60" width="5.50" height="81.90" fill="#fde2c0"/>
<line x1="162.3" y1="232" x2="162.3" y2="319" stroke="#000" stroke-width="1"/>
<line x1="161.8" y1="318.5" x2="276.8" y2="318.5" stroke="#000" stroke-width="1"/>
<line x1="159.6" y1="318.4" x2="162.3" y2="318.4" stroke="#000" stroke-width="0.8"/>
<line x1="160.6" y1="310.27" x2="162.3" y2="310.27" stroke="#000" stroke-width="0.8"/>
<line x1="160.6" y1="302.14" x2="162.3" y2="302.14" stroke="#000" stroke-width="0.8"/>
<line x1="160.6" y1="294.01" x2="162.3" y2="294.01" stroke="#000" stroke-width="0.8"/>
<line x1="160.6" y1="285.88" x2="162.3" y2="285.88" stroke="#000" stroke-width="0.8"/>
<line x1="159.6" y1="277.75" x2="162.3" y2="277.75" stroke="#000" stroke-width="0.8"/>
<line x1="160.6" y1="269.62" x2="162.3" y2="269.62" stroke="#000" stroke-width="0.8"/>
<line x1="160.6" y1="261.48999999999995" x2="162.3" y2="261.48999999999995" stroke="#000" stroke-width="0.8"/>
<line x1="160.6" y1="253.35999999999996" x2="162.3" y2="253.35999999999996" stroke="#000" stroke-width="0.8"/>
<line x1="160.6" y1="245.22999999999996" x2="162.3" y2="245.22999999999996" stroke="#000" stroke-width="0.8"/>
<line x1="159.6" y1="237.09999999999997" x2="162.3" y2="237.09999999999997" stroke="#000" stroke-width="0.8"/>
<text x="156.5" y="320.9" font-size="7.5" text-anchor="end" stroke="#000" stroke-width="0.2">0</text>
<text x="156.5" y="280.25" font-size="7.5" text-anchor="end" stroke="#000" stroke-width="0.2">5</text>
<text x="156.5" y="239.59999999999997" font-size="7.5" text-anchor="end" stroke="#000" stroke-width="0.2">10</text>
<line x1="162.4" y1="318.5" x2="162.4" y2="321.3" stroke="#000" stroke-width="0.8"/>
<text x="162.4" y="329.9" font-size="8" text-anchor="middle" stroke="#000" stroke-width="0.1">0</text>
<line x1="194.8" y1="318.5" x2="194.8" y2="321.3" stroke="#000" stroke-width="0.8"/>
<text x="194.8" y="329.9" font-size="8" text-anchor="middle" stroke="#000" stroke-width="0.1">20</text>
<line x1="227.20000000000002" y1="318.5" x2="227.20000000000002" y2="321.3" stroke="#000" stroke-width="0.8"/>
<text x="227.20000000000002" y="329.9" font-size="8" text-anchor="middle" stroke="#000" stroke-width="0.1">40</text>
<line x1="259.6" y1="318.5" x2="259.6" y2="321.3" stroke="#000" stroke-width="0.8"/>
<text x="259.6" y="329.9" font-size="8" text-anchor="middle" stroke="#000" stroke-width="0.1">60</text>
<text x="219" y="342.5" font-size="9" text-anchor="middle" textLength="42.7" lengthAdjust="spacingAndGlyphs" stroke="#000" stroke-width="0.2">Time (minutes)</text>
<text transform="translate(142.2,275.7) rotate(-90)" font-size="9.4" text-anchor="middle" textLength="77.6" lengthAdjust="spacingAndGlyphs" stroke="#000" stroke-width="0.25">OCR (pmol/min/norm. unit)</text>
<text x="184.8" y="256.8" font-size="7.5" textLength="14.4" lengthAdjust="spacingAndGlyphs" stroke="#000" stroke-width="0.05">PMA</text>
<line x1="192" y1="260" x2="192" y2="277" stroke="#222" stroke-width="0.9"/>
<path d="M192 280.3 L190.4 276.3 L193.6 276.3 Z"/>
<path d="M164.70 276.50V281.50M163.40 276.50h2.6M163.40 281.50h2.6M175.29 279.80V284.80M173.99 279.80h2.6M173.99 284.80h2.6M185.88 281.40V286.40M184.58 281.40h2.6M184.58 286.40h2.6M196.47 281.40V287.40M195.17 281.40h2.6M195.17 287.40h2.6M207.06 277.30V286.30M205.76 277.30h2.6M205.76 286.30h2.6M217.65 269.10V281.10M216.35 269.10h2.6M216.35 281.10h2.6M228.24 257.40V274.40M226.94 257.40h2.6M226.94 274.40h2.6M238.83 250.20V267.20M237.53 250.20h2.6M237.53 267.20h2.6M249.42 243.90V261.30M248.12 243.90h2.6M248.12 261.30h2.6M260.01 240.40V257.60M258.71 240.40h2.6M258.71 257.60h2.6M270.60 238.90V255.30M269.30 238.90h2.6M269.30 255.30h2.6" stroke="#7ccf86" stroke-width="0.9" fill="none"/>
<path d="M164.70 279.00 C166.46 279.55 171.76 281.48 175.29 282.30 C178.82 283.12 182.35 283.55 185.88 283.90 C189.41 284.25 192.94 284.75 196.47 284.40 C200.00 284.05 203.53 283.35 207.06 281.80 C210.59 280.25 214.12 277.75 217.65 275.10 C221.18 272.45 224.71 268.63 228.24 265.90 C231.77 263.17 235.30 260.92 238.83 258.70 C242.36 256.48 245.89 254.22 249.42 252.60 C252.95 250.98 256.48 249.92 260.01 249.00 C263.54 248.08 268.84 247.42 270.60 247.10" stroke="#2bb540" stroke-width="1.3" fill="none"/>
<path d="M164.70 277.10 L166.50 280.30 L162.90 280.30Z" fill="#2bb540"/>
<path d="M175.29 280.40 L177.09 283.60 L173.49 283.60Z" fill="#2bb540"/>
<path d="M185.88 282.00 L187.68 285.20 L184.08 285.20Z" fill="#2bb540"/>
<path d="M196.47 282.50 L198.27 285.70 L194.67 285.70Z" fill="#2bb540"/>
<path d="M207.06 279.90 L208.86 283.10 L205.26 283.10Z" fill="#2bb540"/>
<path d="M217.65 273.20 L219.45 276.40 L215.85 276.40Z" fill="#2bb540"/>
<path d="M228.24 264.00 L230.04 267.20 L226.44 267.20Z" fill="#2bb540"/>
<path d="M238.83 256.80 L240.63 260.00 L237.03 260.00Z" fill="#2bb540"/>
<path d="M249.42 250.70 L251.22 253.90 L247.62 253.90Z" fill="#2bb540"/>
<path d="M260.01 247.10 L261.81 250.30 L258.21 250.30Z" fill="#2bb540"/>
<path d="M270.60 245.20 L272.40 248.40 L268.80 248.40Z" fill="#2bb540"/>
<path d="M164.70 296.00V300.00M163.40 296.00h2.6M163.40 300.00h2.6M175.29 298.20V302.20M173.99 298.20h2.6M173.99 302.20h2.6M185.88 299.60V303.60M184.58 299.60h2.6M184.58 303.60h2.6M196.47 300.80V304.80M195.17 300.80h2.6M195.17 304.80h2.6M207.06 301.40V305.40M205.76 301.40h2.6M205.76 305.40h2.6M217.65 299.80V303.80M216.35 299.80h2.6M216.35 303.80h2.6M228.24 297.70V302.10M226.94 297.70h2.6M226.94 302.10h2.6M238.83 295.50V299.90M237.53 295.50h2.6M237.53 299.90h2.6M249.42 293.20V297.80M248.12 293.20h2.6M248.12 297.80h2.6M260.01 292.00V296.60M258.71 292.00h2.6M258.71 296.60h2.6M270.60 291.70V296.30M269.30 291.70h2.6M269.30 296.30h2.6" stroke="#5d8bbb" stroke-width="0.9" fill="none"/>
<path d="M164.70 298.00 C166.46 298.37 171.76 299.60 175.29 300.20 C178.82 300.80 182.35 301.17 185.88 301.60 C189.41 302.03 192.94 302.50 196.47 302.80 C200.00 303.10 203.53 303.57 207.06 303.40 C210.59 303.23 214.12 302.38 217.65 301.80 C221.18 301.22 224.71 300.58 228.24 299.90 C231.77 299.22 235.30 298.43 238.83 297.70 C242.36 296.97 245.89 296.07 249.42 295.50 C252.95 294.93 256.48 294.55 260.01 294.30 C263.54 294.05 268.84 294.05 270.60 294.00" stroke="#1d5a95" stroke-width="1.3" fill="none"/>
<path d="M164.70 296.10 L166.50 299.30 L162.90 299.30Z" fill="#1d5a95"/>
<path d="M175.29 298.30 L177.09 301.50 L173.49 301.50Z" fill="#1d5a95"/>
<path d="M185.88 299.70 L187.68 302.90 L184.08 302.90Z" fill="#1d5a95"/>
<path d="M196.47 300.90 L198.27 304.10 L194.67 304.10Z" fill="#1d5a95"/>
<path d="M207.06 301.50 L208.86 304.70 L205.26 304.70Z" fill="#1d5a95"/>
<path d="M217.65 299.90 L219.45 303.10 L215.85 303.10Z" fill="#1d5a95"/>
<path d="M228.24 298.00 L230.04 301.20 L226.44 301.20Z" fill="#1d5a95"/>
<path d="M238.83 295.80 L240.63 299.00 L237.03 299.00Z" fill="#1d5a95"/>
<path d="M249.42 293.60 L251.22 296.80 L247.62 296.80Z" fill="#1d5a95"/>
<path d="M260.01 292.40 L261.81 295.60 L258.21 295.60Z" fill="#1d5a95"/>
<path d="M270.60 292.10 L272.40 295.30 L268.80 295.30Z" fill="#1d5a95"/>
<path d="M164.70 295.90V300.90M163.40 295.90h2.6M163.40 300.90h2.6M175.29 297.80V303.40M173.99 297.80h2.6M173.99 303.40h2.6M185.88 298.70V304.30M184.58 298.70h2.6M184.58 304.30h2.6M196.47 299.00V304.60M195.17 299.00h2.6M195.17 304.60h2.6M207.06 298.60V304.20M205.76 298.60h2.6M205.76 304.20h2.6M217.65 296.30V302.70M216.35 296.30h2.6M216.35 302.70h2.6M228.24 292.00V300.00M226.94 292.00h2.6M226.94 300.00h2.6M238.83 283.80V294.80M237.53 283.80h2.6M237.53 294.80h2.6M249.42 276.40V290.40M248.12 276.40h2.6M248.12 290.40h2.6M260.01 271.30V284.50M258.71 271.30h2.6M258.71 284.50h2.6M270.60 266.20V280.20M269.30 266.20h2.6M269.30 280.20h2.6" stroke="#8a6aa2" stroke-width="0.9" fill="none"/>
<path d="M164.70 298.40 C166.46 298.77 171.76 300.08 175.29 300.60 C178.82 301.12 182.35 301.30 185.88 301.50 C189.41 301.70 192.94 301.82 196.47 301.80 C200.00 301.78 203.53 301.78 207.06 301.40 C210.59 301.02 214.12 300.40 217.65 299.50 C221.18 298.60 224.71 297.70 228.24 296.00 C231.77 294.30 235.30 291.40 238.83 289.30 C242.36 287.20 245.89 285.30 249.42 283.40 C252.95 281.50 256.48 279.60 260.01 277.90 C263.54 276.20 268.84 273.98 270.60 273.20" stroke="#5a1e78" stroke-width="1.3" fill="none"/>
<path d="M164.70 296.60 L166.30 298.40 L164.70 300.20 L163.10 298.40Z" fill="#5a1e78"/>
<path d="M175.29 298.80 L176.89 300.60 L175.29 302.40 L173.69 300.60Z" fill="#5a1e78"/>
<path d="M185.88 299.70 L187.48 301.50 L185.88 303.30 L184.28 301.50Z" fill="#5a1e78"/>
<path d="M196.47 300.00 L198.07 301.80 L196.47 303.60 L194.87 301.80Z" fill="#5a1e78"/>
<path d="M207.06 299.60 L208.66 301.40 L207.06 303.20 L205.46 301.40Z" fill="#5a1e78"/>
<path d="M217.65 297.70 L219.25 299.50 L217.65 301.30 L216.05 299.50Z" fill="#5a1e78"/>
<path d="M228.24 294.20 L229.84 296.00 L228.24 297.80 L226.64 296.00Z" fill="#5a1e78"/>
<path d="M238.83 287.50 L240.43 289.30 L238.83 291.10 L237.23 289.30Z" fill="#5a1e78"/>
<path d="M249.42 281.60 L251.02 283.40 L249.42 285.20 L247.82 283.40Z" fill="#5a1e78"/>
<path d="M260.01 276.10 L261.61 277.90 L260.01 279.70 L258.41 277.90Z" fill="#5a1e78"/>
<path d="M270.60 271.40 L272.20 273.20 L270.60 275.00 L269.00 273.20Z" fill="#5a1e78"/>
<path d="M164.70 297.60V301.60M163.40 297.60h2.6M163.40 301.60h2.6M175.29 299.20V303.20M173.99 299.20h2.6M173.99 303.20h2.6M185.88 300.10V304.10M184.58 300.10h2.6M184.58 304.10h2.6M196.47 300.50V304.50M195.17 300.50h2.6M195.17 304.50h2.6M207.06 298.90V302.90M205.76 298.90h2.6M205.76 302.90h2.6M217.65 296.30V300.30M216.35 296.30h2.6M216.35 300.30h2.6M228.24 289.30V294.30M226.94 289.30h2.6M226.94 294.30h2.6M238.83 281.10V288.10M237.53 281.10h2.6M237.53 288.10h2.6M249.42 274.10V281.70M248.12 274.10h2.6M248.12 281.70h2.6M260.01 268.60V276.20M258.71 268.60h2.6M258.71 276.20h2.6M270.60 263.50V270.70M269.30 263.50h2.6M269.30 270.70h2.6" stroke="#d85a70" stroke-width="0.9" fill="none"/>
<path d="M164.70 299.60 C166.46 299.87 171.76 300.78 175.29 301.20 C178.82 301.62 182.35 301.88 185.88 302.10 C189.41 302.32 192.94 302.70 196.47 302.50 C200.00 302.30 203.53 301.60 207.06 300.90 C210.59 300.20 214.12 299.82 217.65 298.30 C221.18 296.78 224.71 294.08 228.24 291.80 C231.77 289.52 235.30 286.92 238.83 284.60 C242.36 282.28 245.89 279.93 249.42 277.90 C252.95 275.87 256.48 274.20 260.01 272.40 C263.54 270.60 268.84 267.98 270.60 267.10" stroke="#c8102e" stroke-width="1.3" fill="none"/>
<circle cx="164.70" cy="299.60" r="1.6" fill="#c8102e"/>
<circle cx="175.29" cy="301.20" r="1.6" fill="#c8102e"/>
<circle cx="185.88" cy="302.10" r="1.6" fill="#c8102e"/>
<circle cx="196.47" cy="302.50" r="1.6" fill="#c8102e"/>
<circle cx="207.06" cy="300.90" r="1.6" fill="#c8102e"/>
<circle cx="217.65" cy="298.30" r="1.6" fill="#c8102e"/>
<circle cx="228.24" cy="291.80" r="1.6" fill="#c8102e"/>
<circle cx="238.83" cy="284.60" r="1.6" fill="#c8102e"/>
<circle cx="249.42" cy="277.90" r="1.6" fill="#c8102e"/>
<circle cx="260.01" cy="272.40" r="1.6" fill="#c8102e"/>
<circle cx="270.60" cy="267.10" r="1.6" fill="#c8102e"/>
<line x1="279.6" y1="257.6" x2="292" y2="257.6" stroke="#c8102e" stroke-width="1.1"/>
<circle cx="285.50" cy="257.60" r="1.55" fill="#c8102e"/>
<text x="295.2" y="260.1" font-size="7.2" textLength="24" lengthAdjust="spacingAndGlyphs" stroke="#000" stroke-width="0.05">Medium</text>
<line x1="279.6" y1="269.57000000000005" x2="292" y2="269.57000000000005" stroke="#2bb540" stroke-width="1.1"/>
<path d="M285.50 267.72 L287.25 270.82 L283.75 270.82Z" fill="#2bb540"/>
<text x="295.2" y="272.07000000000005" font-size="7.2" textLength="13.6" lengthAdjust="spacingAndGlyphs" stroke="#000" stroke-width="0.05">IFNγ</text>
<line x1="279.6" y1="281.54" x2="292" y2="281.54" stroke="#5a1e78" stroke-width="1.1"/>
<path d="M285.50 279.79 L287.05 281.54 L285.50 283.29 L283.95 281.54Z" fill="#5a1e78"/>
<text x="295.2" y="284.04" font-size="7.2" textLength="53.9" lengthAdjust="spacingAndGlyphs" stroke="#000" stroke-width="0.05">Medium + FK866</text>
<line x1="279.6" y1="293.51000000000005" x2="292" y2="293.51000000000005" stroke="#1d5a95" stroke-width="1.1"/>
<path d="M285.50 291.66 L287.25 294.76 L283.75 294.76Z" fill="#1d5a95"/>
<text x="295.2" y="296.01000000000005" font-size="7.2" textLength="43" lengthAdjust="spacingAndGlyphs" stroke="#000" stroke-width="0.05">IFNγ + FK866</text>
<text x="369.7" y="223.7" font-size="11.6" font-weight="bold" stroke="#000" stroke-width="0.2">E</text>
<line x1="395.2" y1="231.4" x2="395.2" y2="319.1" stroke="#000" stroke-width="1"/>
<line x1="394.7" y1="318.6" x2="511.7" y2="318.6" stroke="#000" stroke-width="1"/>
<line x1="392.2" y1="318.8" x2="395.2" y2="318.8" stroke="#000" stroke-width="0.8"/>
<text x="389.3" y="321.40000000000003" font-size="7.5" text-anchor="end" stroke="#000" stroke-width="0.2">0</text>
<line x1="392.2" y1="299.14" x2="395.2" y2="299.14" stroke="#000" stroke-width="0.8"/>
<text x="389.3" y="301.74" font-size="7.5" text-anchor="end" stroke="#000" stroke-width="0.2">2</text>
<line x1="392.2" y1="279.48" x2="395.2" y2="279.48" stroke="#000" stroke-width="0.8"/>
<text x="389.3" y="282.08000000000004" font-size="7.5" text-anchor="end" stroke="#000" stroke-width="0.2">4</text>
<line x1="392.2" y1="259.82" x2="395.2" y2="259.82" stroke="#000" stroke-width="0.8"/>
<text x="389.3" y="262.42" font-size="7.5" text-anchor="end" stroke="#000" stroke-width="0.2">6</text>
<line x1="392.2" y1="240.16000000000003" x2="395.2" y2="240.16000000000003" stroke="#000" stroke-width="0.8"/>
<text x="389.3" y="242.76000000000002" font-size="7.5" text-anchor="end" stroke="#000" stroke-width="0.2">8</text>
<line x1="422.8" y1="318.6" x2="422.8" y2="321.6" stroke="#000" stroke-width="0.8"/>
<line x1="483.6" y1="318.6" x2="483.6" y2="321.6" stroke="#000" stroke-width="0.8"/>
<text transform="translate(378.0,274.6) rotate(-90)" font-size="9.3" text-anchor="middle" textLength="49.4" lengthAdjust="spacingAndGlyphs" stroke="#000" stroke-width="0.25">Fold change OCR</text>
<rect x="399.70" y="309.46" width="7.60" height="8.64" fill="#e8808f"/>
<rect x="412.70" y="296.49" width="7.60" height="21.61" fill="#a0dca5"/>
<rect x="425.60" y="308.97" width="7.60" height="9.13" fill="#b49ac6"/>
<rect x="438.55" y="308.48" width="7.60" height="9.62" fill="#8cafd2"/>
<rect x="460.30" y="279.77" width="7.60" height="38.33" fill="#e8808f"/>
<rect x="473.55" y="263.75" width="7.60" height="54.35" fill="#a0dca5"/>
<rect x="486.70" y="292.06" width="7.60" height="26.04" fill="#b49ac6"/>
<rect x="499.60" y="302.68" width="7.60" height="15.42" fill="#8cafd2"/>
<circle cx="400.82" cy="309.60" r="1.15" fill="#c8102e"/>
<circle cx="406.50" cy="307.22" r="1.15" fill="#c8102e"/>
<circle cx="405.89" cy="306.79" r="1.15" fill="#c8102e"/>
<circle cx="400.86" cy="310.11" r="1.15" fill="#c8102e"/>
<circle cx="404.58" cy="309.70" r="1.15" fill="#c8102e"/>
<circle cx="400.61" cy="307.23" r="1.15" fill="#c8102e"/>
<circle cx="401.72" cy="310.66" r="1.15" fill="#c8102e"/>
<circle cx="404.69" cy="306.84" r="1.15" fill="#c8102e"/>
<circle cx="405.30" cy="305.63" r="1.15" fill="#c8102e"/>
<circle cx="406.10" cy="305.79" r="1.15" fill="#c8102e"/>
<circle cx="402.90" cy="308.36" r="1.15" fill="#c8102e"/>
<circle cx="404.55" cy="310.55" r="1.15" fill="#c8102e"/>
<circle cx="401.14" cy="306.78" r="1.15" fill="#c8102e"/>
<circle cx="401.66" cy="309.22" r="1.15" fill="#c8102e"/>
<circle cx="404.18" cy="309.01" r="1.15" fill="#c8102e"/>
<circle cx="405.59" cy="310.32" r="1.15" fill="#c8102e"/>
<circle cx="402.40" cy="306.29" r="1.15" fill="#c8102e"/>
<circle cx="406.11" cy="308.42" r="1.15" fill="#c8102e"/>
<circle cx="418.44" cy="292.15" r="1.15" fill="#2bb540"/>
<circle cx="418.47" cy="293.96" r="1.15" fill="#2bb540"/>
<circle cx="416.82" cy="295.34" r="1.15" fill="#2bb540"/>
<circle cx="413.84" cy="298.97" r="1.15" fill="#2bb540"/>
<circle cx="418.84" cy="294.04" r="1.15" fill="#2bb540"/>
<circle cx="415.52" cy="294.42" r="1.15" fill="#2bb540"/>
<circle cx="416.51" cy="292.81" r="1.15" fill="#2bb540"/>
<circle cx="414.39" cy="294.75" r="1.15" fill="#2bb540"/>
<circle cx="417.11" cy="294.83" r="1.15" fill="#2bb540"/>
<circle cx="417.58" cy="293.24" r="1.15" fill="#2bb540"/>
<circle cx="415.55" cy="294.34" r="1.15" fill="#2bb540"/>
<circle cx="417.85" cy="295.86" r="1.15" fill="#2bb540"/>
<circle cx="413.76" cy="298.32" r="1.15" fill="#2bb540"/>
<circle cx="416.84" cy="293.92" r="1.15" fill="#2bb540"/>
<circle cx="416.88" cy="292.32" r="1.15" fill="#2bb540"/>
<circle cx="417.53" cy="298.76" r="1.15" fill="#2bb540"/>
<circle cx="415.07" cy="293.25" r="1.15" fill="#2bb540"/>
<circle cx="414.48" cy="298.27" r="1.15" fill="#2bb540"/>
<circle cx="417.57" cy="298.02" r="1.15" fill="#2bb540"/>
<circle cx="416.43" cy="297.09" r="1.15" fill="#2bb540"/>
<circle cx="427.56" cy="309.26" r="1.15" fill="#5a1e78"/>
<circle cx="427.46" cy="308.86" r="1.15" fill="#5a1e78"/>
<circle cx="430.01" cy="306.26" r="1.15" fill="#5a1e78"/>
<circle cx="431.93" cy="310.28" r="1.15" fill="#5a1e78"/>
<circle cx="428.34" cy="307.22" r="1.15" fill="#5a1e78"/>
<circle cx="428.73" cy="309.33" r="1.15" fill="#5a1e78"/>
<circle cx="428.64" cy="306.64" r="1.15" fill="#5a1e78"/>
<circle cx="426.77" cy="309.47" r="1.15" fill="#5a1e78"/>
<circle cx="431.91" cy="309.28" r="1.15" fill="#5a1e78"/>
<circle cx="428.86" cy="306.42" r="1.15" fill="#5a1e78"/>
<circle cx="430.51" cy="305.46" r="1.15" fill="#5a1e78"/>
<circle cx="432.10" cy="305.39" r="1.15" fill="#5a1e78"/>
<circle cx="430.85" cy="308.81" r="1.15" fill="#5a1e78"/>
<circle cx="428.72" cy="307.75" r="1.15" fill="#5a1e78"/>
<circle cx="426.80" cy="307.96" r="1.15" fill="#5a1e78"/>
<circle cx="431.23" cy="305.78" r="1.15" fill="#5a1e78"/>
<circle cx="432.16" cy="308.24" r="1.15" fill="#5a1e78"/>
<circle cx="431.69" cy="306.27" r="1.15" fill="#5a1e78"/>
<circle cx="439.43" cy="306.92" r="1.15" fill="#1d5a95"/>
<circle cx="441.59" cy="308.20" r="1.15" fill="#1d5a95"/>
<circle cx="444.38" cy="306.34" r="1.15" fill="#1d5a95"/>
<circle cx="439.72" cy="309.40" r="1.15" fill="#1d5a95"/>
<circle cx="440.71" cy="306.60" r="1.15" fill="#1d5a95"/>
<circle cx="441.55" cy="306.00" r="1.15" fill="#1d5a95"/>
<circle cx="445.30" cy="309.47" r="1.15" fill="#1d5a95"/>
<circle cx="442.29" cy="306.00" r="1.15" fill="#1d5a95"/>
<circle cx="439.76" cy="305.05" r="1.15" fill="#1d5a95"/>
<circle cx="442.88" cy="308.77" r="1.15" fill="#1d5a95"/>
<circle cx="444.14" cy="310.64" r="1.15" fill="#1d5a95"/>
<circle cx="443.51" cy="307.73" r="1.15" fill="#1d5a95"/>
<circle cx="440.63" cy="305.19" r="1.15" fill="#1d5a95"/>
<circle cx="441.22" cy="310.31" r="1.15" fill="#1d5a95"/>
<circle cx="440.27" cy="307.85" r="1.15" fill="#1d5a95"/>
<circle cx="439.75" cy="307.55" r="1.15" fill="#1d5a95"/>
<circle cx="443.81" cy="306.88" r="1.15" fill="#1d5a95"/>
<circle cx="444.66" cy="308.87" r="1.15" fill="#1d5a95"/>
<circle cx="445.11" cy="308.77" r="1.15" fill="#1d5a95"/>
<circle cx="444.02" cy="308.52" r="1.15" fill="#1d5a95"/>
<circle cx="464.59" cy="286.99" r="1.15" fill="#c8102e"/>
<circle cx="462.13" cy="276.91" r="1.15" fill="#c8102e"/>
<circle cx="461.64" cy="270.05" r="1.15" fill="#c8102e"/>
<circle cx="465.48" cy="282.18" r="1.15" fill="#c8102e"/>
<circle cx="461.99" cy="274.94" r="1.15" fill="#c8102e"/>
<circle cx="465.82" cy="278.00" r="1.15" fill="#c8102e"/>
<circle cx="465.12" cy="284.20" r="1.15" fill="#c8102e"/>
<circle cx="466.47" cy="274.56" r="1.15" fill="#c8102e"/>
<circle cx="462.01" cy="268.19" r="1.15" fill="#c8102e"/>
<circle cx="462.50" cy="274.48" r="1.15" fill="#c8102e"/>
<circle cx="465.75" cy="271.15" r="1.15" fill="#c8102e"/>
<circle cx="464.51" cy="272.39" r="1.15" fill="#c8102e"/>
<circle cx="466.32" cy="268.34" r="1.15" fill="#c8102e"/>
<circle cx="466.07" cy="270.43" r="1.15" fill="#c8102e"/>
<circle cx="461.63" cy="271.30" r="1.15" fill="#c8102e"/>
<circle cx="461.72" cy="286.57" r="1.15" fill="#c8102e"/>
<circle cx="462.43" cy="277.75" r="1.15" fill="#c8102e"/>
<circle cx="466.30" cy="266.49" r="1.15" fill="#c8102e"/>
<circle cx="463.50" cy="276.13" r="1.15" fill="#c8102e"/>
<circle cx="463.52" cy="278.52" r="1.15" fill="#c8102e"/>
<path d="M464.1 270.63V288.92M462.1 270.63h4M462.1 288.92h4" stroke="#111" stroke-width="1" fill="none"/>
<circle cx="477.82" cy="274.00" r="1.15" fill="#2bb540"/>
<circle cx="477.11" cy="282.65" r="1.15" fill="#2bb540"/>
<circle cx="479.92" cy="255.64" r="1.15" fill="#2bb540"/>
<circle cx="478.03" cy="276.81" r="1.15" fill="#2bb540"/>
<circle cx="477.12" cy="265.54" r="1.15" fill="#2bb540"/>
<circle cx="477.07" cy="275.38" r="1.15" fill="#2bb540"/>
<circle cx="474.97" cy="251.06" r="1.15" fill="#2bb540"/>
<circle cx="477.32" cy="262.33" r="1.15" fill="#2bb540"/>
<circle cx="476.92" cy="251.36" r="1.15" fill="#2bb540"/>
<circle cx="476.36" cy="275.55" r="1.15" fill="#2bb540"/>
<circle cx="478.94" cy="255.59" r="1.15" fill="#2bb540"/>
<circle cx="478.49" cy="270.28" r="1.15" fill="#2bb540"/>
<circle cx="480.34" cy="260.83" r="1.15" fill="#2bb540"/>
<circle cx="478.21" cy="255.64" r="1.15" fill="#2bb540"/>
<circle cx="479.27" cy="269.77" r="1.15" fill="#2bb540"/>
<circle cx="475.13" cy="281.11" r="1.15" fill="#2bb540"/>
<circle cx="474.58" cy="269.42" r="1.15" fill="#2bb540"/>
<circle cx="475.21" cy="277.49" r="1.15" fill="#2bb540"/>
<circle cx="476.82" cy="263.52" r="1.15" fill="#2bb540"/>
<circle cx="478.70" cy="277.33" r="1.15" fill="#2bb540"/>
<path d="M477.35 252.05V275.45M475.35 252.05h4M475.35 275.45h4" stroke="#111" stroke-width="1" fill="none"/>
<circle cx="487.60" cy="289.53" r="1.15" fill="#5a1e78"/>
<circle cx="491.43" cy="285.50" r="1.15" fill="#5a1e78"/>
<circle cx="487.92" cy="283.17" r="1.15" fill="#5a1e78"/>
<circle cx="488.79" cy="290.49" r="1.15" fill="#5a1e78"/>
<circle cx="492.18" cy="285.34" r="1.15" fill="#5a1e78"/>
<circle cx="488.29" cy="283.59" r="1.15" fill="#5a1e78"/>
<circle cx="489.90" cy="286.91" r="1.15" fill="#5a1e78"/>
<circle cx="493.46" cy="281.64" r="1.15" fill="#5a1e78"/>
<circle cx="489.93" cy="292.72" r="1.15" fill="#5a1e78"/>
<circle cx="490.40" cy="293.11" r="1.15" fill="#5a1e78"/>
<circle cx="489.52" cy="283.11" r="1.15" fill="#5a1e78"/>
<circle cx="488.28" cy="292.43" r="1.15" fill="#5a1e78"/>
<circle cx="492.89" cy="289.05" r="1.15" fill="#5a1e78"/>
<circle cx="489.61" cy="281.77" r="1.15" fill="#5a1e78"/>
<circle cx="487.71" cy="289.33" r="1.15" fill="#5a1e78"/>
<circle cx="487.75" cy="286.04" r="1.15" fill="#5a1e78"/>
<circle cx="488.82" cy="282.30" r="1.15" fill="#5a1e78"/>
<circle cx="490.96" cy="289.26" r="1.15" fill="#5a1e78"/>
<circle cx="493.37" cy="281.22" r="1.15" fill="#5a1e78"/>
<circle cx="488.44" cy="292.67" r="1.15" fill="#5a1e78"/>
<path d="M490.5 288.33V295.80M488.5 288.33h4M488.5 295.80h4" stroke="#111" stroke-width="1" fill="none"/>
<circle cx="503.91" cy="302.09" r="1.15" fill="#1d5a95"/>
<circle cx="502.18" cy="308.06" r="1.15" fill="#1d5a95"/>
<circle cx="500.45" cy="295.28" r="1.15" fill="#1d5a95"/>
<circle cx="503.37" cy="297.54" r="1.15" fill="#1d5a95"/>
<circle cx="500.58" cy="294.53" r="1.15" fill="#1d5a95"/>
<circle cx="505.43" cy="304.43" r="1.15" fill="#1d5a95"/>
<circle cx="502.71" cy="300.76" r="1.15" fill="#1d5a95"/>
<circle cx="501.68" cy="309.86" r="1.15" fill="#1d5a95"/>
<circle cx="504.64" cy="304.47" r="1.15" fill="#1d5a95"/>
<circle cx="502.51" cy="301.75" r="1.15" fill="#1d5a95"/>
<circle cx="505.10" cy="296.84" r="1.15" fill="#1d5a95"/>
<circle cx="502.40" cy="305.01" r="1.15" fill="#1d5a95"/>
<circle cx="502.12" cy="300.18" r="1.15" fill="#1d5a95"/>
<circle cx="504.40" cy="300.27" r="1.15" fill="#1d5a95"/>
<circle cx="500.50" cy="298.35" r="1.15" fill="#1d5a95"/>
<circle cx="505.11" cy="297.60" r="1.15" fill="#1d5a95"/>
<circle cx="506.36" cy="303.79" r="1.15" fill="#1d5a95"/>
<circle cx="501.18" cy="308.88" r="1.15" fill="#1d5a95"/>
<circle cx="503.21" cy="296.20" r="1.15" fill="#1d5a95"/>
<circle cx="506.39" cy="309.99" r="1.15" fill="#1d5a95"/>
<path d="M503.4 297.96V307.40M501.4 297.96h4M501.4 307.40h4" stroke="#111" stroke-width="1" fill="none"/>
<path d="M403.2 302.5V276.4H414.8V287.3" stroke="#444" stroke-width="0.9" fill="none"/>
<path d="M403.85 272.00h1.6v1.6h-1.6zM406.75 272.00h1.6v1.6h-1.6zM409.65 272.00h1.6v1.6h-1.6zM412.55 272.00h1.6v1.6h-1.6z" fill="#111"/>
<path d="M417.8 286.8V276.4H442.7V299.8" stroke="#444" stroke-width="0.9" fill="none"/>
<path d="M425.25 272.00h1.6v1.6h-1.6zM428.15 272.00h1.6v1.6h-1.6zM431.05 272.00h1.6v1.6h-1.6zM433.95 272.00h1.6v1.6h-1.6z" fill="#111"/>
<path d="M464.1 232.3V228.2H490.3V232.3" stroke="#444" stroke-width="0.9" fill="none"/>
<path d="M474.75 223.00h1.6v1.6h-1.6zM477.65 223.00h1.6v1.6h-1.6z" fill="#111"/>
<path d="M463.9 259.3V240.1H475.7V244.5" stroke="#444" stroke-width="0.9" fill="none"/>
<path d="M464.15 235.40h1.6v1.6h-1.6zM467.05 235.40h1.6v1.6h-1.6zM469.95 235.40h1.6v1.6h-1.6zM472.85 235.40h1.6v1.6h-1.6z" fill="#111"/>
<path d="M478.4 244.5V240.1H503.6V254.6" stroke="#444" stroke-width="0.9" fill="none"/>
<path d="M486.65 235.40h1.6v1.6h-1.6zM489.55 235.40h1.6v1.6h-1.6zM492.45 235.40h1.6v1.6h-1.6zM495.35 235.40h1.6v1.6h-1.6z" fill="#111"/>
<path d="M490.1 276.4V264.7H503.6V290" stroke="#444" stroke-width="0.9" fill="none"/>
<path d="M491.35 259.70h1.6v1.6h-1.6zM494.25 259.70h1.6v1.6h-1.6zM497.15 259.70h1.6v1.6h-1.6zM500.05 259.70h1.6v1.6h-1.6z" fill="#111"/>
<text x="391.4" y="331.1" font-size="7.4" text-anchor="end" stroke="#000" stroke-width="0.08">IFNγ</text>
<text x="391.4" y="342.3" font-size="7.4" text-anchor="end" stroke="#000" stroke-width="0.08">FK866</text>
<text x="391.4" y="353.3" font-size="7.4" text-anchor="end" stroke="#000" stroke-width="0.08">PMA</text>
<line x1="401.4" y1="328.9" x2="405.0" y2="328.9" stroke="#000" stroke-width="0.8"/>
<line x1="413.70000000000005" y1="328.9" x2="418.5" y2="328.9" stroke="#000" stroke-width="0.85"/>
<line x1="416.1" y1="326.5" x2="416.1" y2="331.29999999999995" stroke="#000" stroke-width="0.85"/>
<line x1="427.3" y1="328.9" x2="430.90000000000003" y2="328.9" stroke="#000" stroke-width="0.8"/>
<line x1="440.1" y1="328.9" x2="444.9" y2="328.9" stroke="#000" stroke-width="0.85"/>
<line x1="442.5" y1="326.5" x2="442.5" y2="331.29999999999995" stroke="#000" stroke-width="0.85"/>
<line x1="461.4" y1="328.9" x2="465.0" y2="328.9" stroke="#000" stroke-width="0.8"/>
<line x1="473.70000000000005" y1="328.9" x2="478.5" y2="328.9" stroke="#000" stroke-width="0.85"/>
<line x1="476.1" y1="326.5" x2="476.1" y2="331.29999999999995" stroke="#000" stroke-width="0.85"/>
<line x1="488.0" y1="328.9" x2="491.6" y2="328.9" stroke="#000" stroke-width="0.8"/>
<line x1="500.6" y1="328.9" x2="505.4" y2="328.9" stroke="#000" stroke-width="0.85"/>
<line x1="503.0" y1="326.5" x2="503.0" y2="331.29999999999995" stroke="#000" stroke-width="0.85"/>
<line x1="401.4" y1="340.3" x2="405.0" y2="340.3" stroke="#000" stroke-width="0.8"/>
<line x1="414.3" y1="340.3" x2="417.90000000000003" y2="340.3" stroke="#000" stroke-width="0.8"/>
<line x1="426.70000000000005" y1="340.3" x2="431.5" y2="340.3" stroke="#000" stroke-width="0.85"/>
<line x1="429.1" y1="337.90000000000003" x2="429.1" y2="342.7" stroke="#000" stroke-width="0.85"/>
<line x1="440.1" y1="340.3" x2="444.9" y2="340.3" stroke="#000" stroke-width="0.85"/>
<line x1="442.5" y1="337.90000000000003" x2="442.5" y2="342.7" stroke="#000" stroke-width="0.85"/>
<line x1="461.4" y1="340.3" x2="465.0" y2="340.3" stroke="#000" stroke-width="0.8"/>
<line x1="474.3" y1="340.3" x2="477.90000000000003" y2="340.3" stroke="#000" stroke-width="0.8"/>
<line x1="487.40000000000003" y1="340.3" x2="492.2" y2="340.3" stroke="#000" stroke-width="0.85"/>
<line x1="489.8" y1="337.90000000000003" x2="489.8" y2="342.7" stroke="#000" stroke-width="0.85"/>
<line x1="500.6" y1="340.3" x2="505.4" y2="340.3" stroke="#000" stroke-width="0.85"/>
<line x1="503.0" y1="337.90000000000003" x2="503.0" y2="342.7" stroke="#000" stroke-width="0.85"/>
<line x1="401.4" y1="351.2" x2="405.0" y2="351.2" stroke="#000" stroke-width="0.8"/>
<line x1="414.3" y1="351.2" x2="417.90000000000003" y2="351.2" stroke="#000" stroke-width="0.8"/>
<line x1="427.3" y1="351.2" x2="430.90000000000003" y2="351.2" stroke="#000" stroke-width="0.8"/>
<line x1="440.7" y1="351.2" x2="444.3" y2="351.2" stroke="#000" stroke-width="0.8"/>
<line x1="460.8" y1="351.2" x2="465.59999999999997" y2="351.2" stroke="#000" stroke-width="0.85"/>
<line x1="463.2" y1="348.8" x2="463.2" y2="353.59999999999997" stroke="#000" stroke-width="0.85"/>
<line x1="473.70000000000005" y1="351.2" x2="478.5" y2="351.2" stroke="#000" stroke-width="0.85"/>
<line x1="476.1" y1="348.8" x2="476.1" y2="353.59999999999997" stroke="#000" stroke-width="0.85"/>
<line x1="487.40000000000003" y1="351.2" x2="492.2" y2="351.2" stroke="#000" stroke-width="0.85"/>
<line x1="489.8" y1="348.8" x2="489.8" y2="353.59999999999997" stroke="#000" stroke-width="0.85"/>
<line x1="500.6" y1="351.2" x2="505.4" y2="351.2" stroke="#000" stroke-width="0.85"/>
<line x1="503.0" y1="348.8" x2="503.0" y2="353.59999999999997" stroke="#000" stroke-width="0.85"/>
<text x="422.7" y="371.9" font-size="9" text-anchor="middle" fill="#e43a9a" stroke="#e43a9a" stroke-width="0.2">Basal</text>
<text x="484.2" y="366.8" font-size="9" text-anchor="middle" fill="#f7941d" stroke="#f7941d" stroke-width="0.2">PMA-</text>
<text x="483.6" y="378.1" font-size="9" text-anchor="middle" textLength="40.8" lengthAdjust="spacingAndGlyphs" fill="#f7941d" stroke="#f7941d" stroke-width="0.2">stimulated</text>
<rect x="0.5" y="0.5" width="519" height="384" fill="none" stroke="#000" stroke-width="1"/>
</svg></body></html>
